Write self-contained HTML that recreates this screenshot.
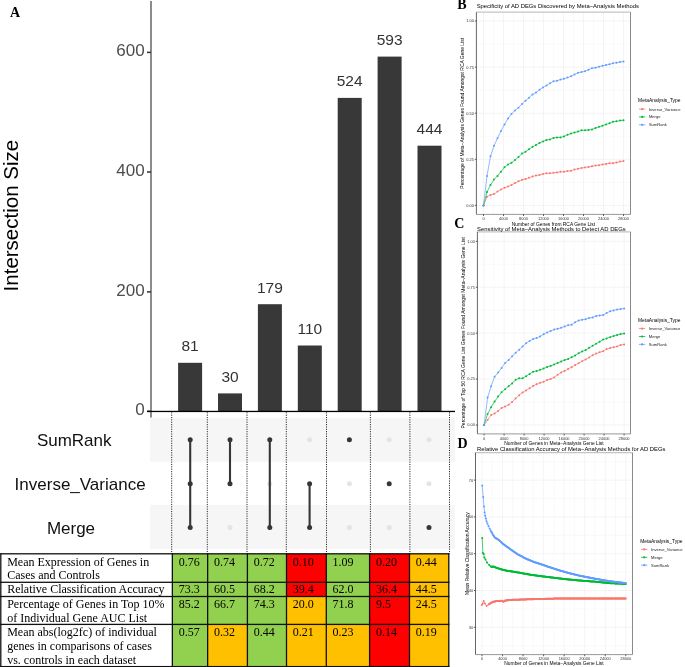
<!DOCTYPE html>
<html><head><meta charset="utf-8"><title>Figure</title>
<style>
html,body{margin:0;padding:0;background:#fff;}
body{width:685px;height:667px;overflow:hidden;}
svg{display:block;will-change:transform;}
.s{font-family:"Liberation Sans", sans-serif;}
.r{font-family:"Liberation Serif", serif;}
</style></head><body>
<svg width="685" height="667" viewBox="0 0 685 667">
<rect x="0" y="0" width="685" height="667" fill="#fff"/>

<text class="r" x="10" y="16.9" font-size="14" font-weight="bold" fill="#000">A</text>
<rect x="150" y="417.8" width="305" height="43.9" fill="#f6f6f6"/>
<rect x="150" y="504.9" width="305" height="44.1" fill="#f6f6f6"/>
<rect x="150" y="1" width="2" height="416.5" fill="#8c8c8c"/>
<line x1="147" y1="52.4" x2="151" y2="52.4" stroke="#333" stroke-width="1.5"/>
<text class="s" x="144.6" y="56.3" font-size="17" fill="#4d4d4d" text-anchor="end">600</text>
<line x1="147" y1="172.0" x2="151" y2="172.0" stroke="#333" stroke-width="1.5"/>
<text class="s" x="144.6" y="175.9" font-size="17" fill="#4d4d4d" text-anchor="end">400</text>
<line x1="147" y1="291.9" x2="151" y2="291.9" stroke="#333" stroke-width="1.5"/>
<text class="s" x="144.6" y="295.8" font-size="17" fill="#4d4d4d" text-anchor="end">200</text>
<line x1="147" y1="411.3" x2="151" y2="411.3" stroke="#333" stroke-width="1.5"/>
<text class="s" x="144.6" y="415.2" font-size="17" fill="#4d4d4d" text-anchor="end">0</text>
<text class="s" transform="translate(18,291.4) rotate(-90)" x="0" y="0" font-size="20.5" fill="#000">Intersection Size</text>
<rect x="178.1" y="362.8" width="24" height="48.5" fill="#383838"/>
<text class="s" x="190.1" y="351.3" font-size="15.5" fill="#333" text-anchor="middle">81</text>
<rect x="218.0" y="393.4" width="24" height="17.9" fill="#383838"/>
<text class="s" x="230.0" y="381.9" font-size="15.5" fill="#333" text-anchor="middle">30</text>
<rect x="257.9" y="304.2" width="24" height="107.1" fill="#383838"/>
<text class="s" x="269.9" y="292.7" font-size="15.5" fill="#333" text-anchor="middle">179</text>
<rect x="297.79999999999995" y="345.5" width="24" height="65.8" fill="#383838"/>
<text class="s" x="309.79999999999995" y="334.0" font-size="15.5" fill="#333" text-anchor="middle">110</text>
<rect x="337.7" y="97.9" width="24" height="313.4" fill="#383838"/>
<text class="s" x="349.7" y="86.4" font-size="15.5" fill="#333" text-anchor="middle">524</text>
<rect x="377.6" y="56.6" width="24" height="354.7" fill="#383838"/>
<text class="s" x="389.6" y="45.1" font-size="15.5" fill="#333" text-anchor="middle">593</text>
<rect x="417.5" y="145.7" width="24" height="265.6" fill="#383838"/>
<text class="s" x="429.5" y="134.2" font-size="15.5" fill="#333" text-anchor="middle">444</text>
<rect x="147" y="410.8" width="308" height="1.3" fill="#000"/>
<line x1="171.7" y1="412.3" x2="171.7" y2="553.5" stroke="#222" stroke-width="1" stroke-dasharray="1.1,1.25"/>
<line x1="207.3" y1="412.3" x2="207.3" y2="553.5" stroke="#222" stroke-width="1" stroke-dasharray="1.1,1.25"/>
<line x1="247.0" y1="412.3" x2="247.0" y2="553.5" stroke="#222" stroke-width="1" stroke-dasharray="1.1,1.25"/>
<line x1="286.3" y1="412.3" x2="286.3" y2="553.5" stroke="#222" stroke-width="1" stroke-dasharray="1.1,1.25"/>
<line x1="326.5" y1="412.3" x2="326.5" y2="553.5" stroke="#222" stroke-width="1" stroke-dasharray="1.1,1.25"/>
<line x1="370.4" y1="412.3" x2="370.4" y2="553.5" stroke="#222" stroke-width="1" stroke-dasharray="1.1,1.25"/>
<line x1="409.9" y1="412.3" x2="409.9" y2="553.5" stroke="#222" stroke-width="1" stroke-dasharray="1.1,1.25"/>
<line x1="449.5" y1="412.3" x2="449.5" y2="553.5" stroke="#222" stroke-width="1" stroke-dasharray="1.1,1.25"/>
<line x1="190.2" y1="439.7" x2="190.2" y2="527.6" stroke="#363636" stroke-width="2.1"/>
<circle cx="190.2" cy="439.7" r="2.5" fill="#363636"/>
<circle cx="190.2" cy="483.8" r="2.5" fill="#363636"/>
<circle cx="190.2" cy="527.6" r="2.5" fill="#363636"/>
<circle cx="230.0" cy="527.6" r="2.5" fill="#e4e4e4"/>
<line x1="230.0" y1="439.7" x2="230.0" y2="483.8" stroke="#363636" stroke-width="2.1"/>
<circle cx="230.0" cy="439.7" r="2.5" fill="#363636"/>
<circle cx="230.0" cy="483.8" r="2.5" fill="#363636"/>
<circle cx="269.8" cy="483.8" r="2.5" fill="#e4e4e4"/>
<line x1="269.8" y1="439.7" x2="269.8" y2="527.6" stroke="#363636" stroke-width="2.1"/>
<circle cx="269.8" cy="439.7" r="2.5" fill="#363636"/>
<circle cx="269.8" cy="527.6" r="2.5" fill="#363636"/>
<circle cx="309.6" cy="439.7" r="2.5" fill="#e4e4e4"/>
<line x1="309.6" y1="483.8" x2="309.6" y2="527.6" stroke="#363636" stroke-width="2.1"/>
<circle cx="309.6" cy="483.8" r="2.5" fill="#363636"/>
<circle cx="309.6" cy="527.6" r="2.5" fill="#363636"/>
<circle cx="349.4" cy="483.8" r="2.5" fill="#e4e4e4"/>
<circle cx="349.4" cy="527.6" r="2.5" fill="#e4e4e4"/>
<circle cx="349.4" cy="439.7" r="2.5" fill="#363636"/>
<circle cx="389.2" cy="439.7" r="2.5" fill="#e4e4e4"/>
<circle cx="389.2" cy="527.6" r="2.5" fill="#e4e4e4"/>
<circle cx="389.2" cy="483.8" r="2.5" fill="#363636"/>
<circle cx="429.0" cy="439.7" r="2.5" fill="#e4e4e4"/>
<circle cx="429.0" cy="483.8" r="2.5" fill="#e4e4e4"/>
<circle cx="429.0" cy="527.6" r="2.5" fill="#363636"/>
<text class="s" x="36.9" y="445.8" font-size="17" fill="#111">SumRank</text>
<text class="s" x="14.6" y="490" font-size="17" fill="#111">Inverse_Variance</text>
<text class="s" x="46.9" y="533.6" font-size="17" fill="#111">Merge</text>
<rect x="172.35" y="553.8" width="35.3" height="28.5" fill="#92d050"/>
<text class="r" x="178.7" y="565.5" font-size="12" fill="#000">0.76</text>
<rect x="207.65" y="553.8" width="39.8" height="28.5" fill="#92d050"/>
<text class="r" x="214.0" y="565.5" font-size="12" fill="#000">0.74</text>
<rect x="247.4" y="553.8" width="39.1" height="28.5" fill="#92d050"/>
<text class="r" x="253.7" y="565.5" font-size="12" fill="#000">0.72</text>
<rect x="286.5" y="553.8" width="39.8" height="28.5" fill="#ff0000"/>
<text class="r" x="292.8" y="565.5" font-size="12" fill="#000">0.10</text>
<rect x="326.3" y="553.8" width="43.3" height="28.5" fill="#92d050"/>
<text class="r" x="332.6" y="565.5" font-size="12" fill="#000">1.09</text>
<rect x="369.6" y="553.8" width="39.9" height="28.5" fill="#ff0000"/>
<text class="r" x="375.9" y="565.5" font-size="12" fill="#000">0.20</text>
<rect x="409.5" y="553.8" width="39.3" height="28.5" fill="#ffc000"/>
<text class="r" x="415.8" y="565.5" font-size="12" fill="#000">0.44</text>
<text class="r" x="7.2" y="565.5" font-size="12" fill="#000">Mean Expression of Genes in</text>
<text class="r" x="7.2" y="579.2" font-size="12" fill="#000">Cases and Controls</text>
<rect x="172.35" y="582.3" width="35.3" height="14.2" fill="#92d050"/>
<text class="r" x="178.7" y="593.1" font-size="12" fill="#000">73.3</text>
<rect x="207.65" y="582.3" width="39.8" height="14.2" fill="#92d050"/>
<text class="r" x="214.0" y="593.1" font-size="12" fill="#000">60.5</text>
<rect x="247.4" y="582.3" width="39.1" height="14.2" fill="#92d050"/>
<text class="r" x="253.7" y="593.1" font-size="12" fill="#000">68.2</text>
<rect x="286.5" y="582.3" width="39.8" height="14.2" fill="#ff0000"/>
<text class="r" x="292.8" y="593.1" font-size="12" fill="#000">39.4</text>
<rect x="326.3" y="582.3" width="43.3" height="14.2" fill="#92d050"/>
<text class="r" x="332.6" y="593.1" font-size="12" fill="#000">62.0</text>
<rect x="369.6" y="582.3" width="39.9" height="14.2" fill="#ff0000"/>
<text class="r" x="375.9" y="593.1" font-size="12" fill="#000">36.4</text>
<rect x="409.5" y="582.3" width="39.3" height="14.2" fill="#ffc000"/>
<text class="r" x="415.8" y="593.1" font-size="12" fill="#000">44.5</text>
<text class="r" x="7.2" y="593.1" font-size="12" fill="#000">Relative Classification Accuracy</text>
<rect x="172.35" y="596.5" width="35.3" height="27.9" fill="#92d050"/>
<text class="r" x="178.7" y="607.9" font-size="12" fill="#000">85.2</text>
<rect x="207.65" y="596.5" width="39.8" height="27.9" fill="#92d050"/>
<text class="r" x="214.0" y="607.9" font-size="12" fill="#000">66.7</text>
<rect x="247.4" y="596.5" width="39.1" height="27.9" fill="#92d050"/>
<text class="r" x="253.7" y="607.9" font-size="12" fill="#000">74.3</text>
<rect x="286.5" y="596.5" width="39.8" height="27.9" fill="#ffc000"/>
<text class="r" x="292.8" y="607.9" font-size="12" fill="#000">20.0</text>
<rect x="326.3" y="596.5" width="43.3" height="27.9" fill="#92d050"/>
<text class="r" x="332.6" y="607.9" font-size="12" fill="#000">71.8</text>
<rect x="369.6" y="596.5" width="39.9" height="27.9" fill="#ff0000"/>
<text class="r" x="375.9" y="607.9" font-size="12" fill="#000">9.5</text>
<rect x="409.5" y="596.5" width="39.3" height="27.9" fill="#ffc000"/>
<text class="r" x="415.8" y="607.9" font-size="12" fill="#000">24.5</text>
<text class="r" x="7.2" y="607.9" font-size="12" fill="#000">Percentage of Genes in Top 10%</text>
<text class="r" x="7.2" y="621.6" font-size="12" fill="#000">of Individual Gene AUC List</text>
<rect x="172.35" y="624.4" width="35.3" height="42.2" fill="#92d050"/>
<text class="r" x="178.7" y="636.2" font-size="12" fill="#000">0.57</text>
<rect x="207.65" y="624.4" width="39.8" height="42.2" fill="#ffc000"/>
<text class="r" x="214.0" y="636.2" font-size="12" fill="#000">0.32</text>
<rect x="247.4" y="624.4" width="39.1" height="42.2" fill="#92d050"/>
<text class="r" x="253.7" y="636.2" font-size="12" fill="#000">0.44</text>
<rect x="286.5" y="624.4" width="39.8" height="42.2" fill="#ffc000"/>
<text class="r" x="292.8" y="636.2" font-size="12" fill="#000">0.21</text>
<rect x="326.3" y="624.4" width="43.3" height="42.2" fill="#ffc000"/>
<text class="r" x="332.6" y="636.2" font-size="12" fill="#000">0.23</text>
<rect x="369.6" y="624.4" width="39.9" height="42.2" fill="#ff0000"/>
<text class="r" x="375.9" y="636.2" font-size="12" fill="#000">0.14</text>
<rect x="409.5" y="624.4" width="39.3" height="42.2" fill="#ffc000"/>
<text class="r" x="415.8" y="636.2" font-size="12" fill="#000">0.19</text>
<text class="r" x="7.2" y="636.2" font-size="12" fill="#000">Mean abs(log2fc) of individual</text>
<text class="r" x="7.2" y="649.9" font-size="12" fill="#000">genes in comparisons of cases</text>
<text class="r" x="7.2" y="663.6" font-size="12" fill="#000">vs. controls in each dataset</text>
<rect x="0.15" y="553.15" width="1.3" height="114.1" fill="#111"/>
<rect x="171.70" y="553.15" width="1.3" height="114.1" fill="#111"/>
<rect x="207.00" y="553.15" width="1.3" height="114.1" fill="#111"/>
<rect x="246.75" y="553.15" width="1.3" height="114.1" fill="#111"/>
<rect x="285.85" y="553.15" width="1.3" height="114.1" fill="#111"/>
<rect x="325.65" y="553.15" width="1.3" height="114.1" fill="#111"/>
<rect x="368.95" y="553.15" width="1.3" height="114.1" fill="#111"/>
<rect x="408.85" y="553.15" width="1.3" height="114.1" fill="#111"/>
<rect x="448.15" y="553.15" width="1.3" height="114.1" fill="#111"/>
<rect x="0.15" y="553.15" width="449.3" height="1.3" fill="#111"/>
<rect x="0.15" y="581.65" width="449.3" height="1.3" fill="#111"/>
<rect x="0.15" y="595.85" width="449.3" height="1.3" fill="#111"/>
<rect x="0.15" y="623.75" width="449.3" height="1.3" fill="#111"/>
<rect x="0.15" y="665.95" width="449.3" height="1.3" fill="#111"/>
<line x1="483.50" y1="12.2" x2="483.50" y2="214.4" stroke="#ebebeb" stroke-width="0.55"/><line x1="493.50" y1="12.2" x2="493.50" y2="214.4" stroke="#ebebeb" stroke-width="0.3"/><line x1="503.50" y1="12.2" x2="503.50" y2="214.4" stroke="#ebebeb" stroke-width="0.55"/><line x1="513.50" y1="12.2" x2="513.50" y2="214.4" stroke="#ebebeb" stroke-width="0.3"/><line x1="523.50" y1="12.2" x2="523.50" y2="214.4" stroke="#ebebeb" stroke-width="0.55"/><line x1="533.50" y1="12.2" x2="533.50" y2="214.4" stroke="#ebebeb" stroke-width="0.3"/><line x1="543.50" y1="12.2" x2="543.50" y2="214.4" stroke="#ebebeb" stroke-width="0.55"/><line x1="553.50" y1="12.2" x2="553.50" y2="214.4" stroke="#ebebeb" stroke-width="0.3"/><line x1="563.50" y1="12.2" x2="563.50" y2="214.4" stroke="#ebebeb" stroke-width="0.55"/><line x1="573.50" y1="12.2" x2="573.50" y2="214.4" stroke="#ebebeb" stroke-width="0.3"/><line x1="583.50" y1="12.2" x2="583.50" y2="214.4" stroke="#ebebeb" stroke-width="0.55"/><line x1="593.50" y1="12.2" x2="593.50" y2="214.4" stroke="#ebebeb" stroke-width="0.3"/><line x1="603.50" y1="12.2" x2="603.50" y2="214.4" stroke="#ebebeb" stroke-width="0.55"/><line x1="613.50" y1="12.2" x2="613.50" y2="214.4" stroke="#ebebeb" stroke-width="0.3"/><line x1="623.50" y1="12.2" x2="623.50" y2="214.4" stroke="#ebebeb" stroke-width="0.55"/><line x1="476.4" y1="205.40" x2="630.5" y2="205.40" stroke="#ebebeb" stroke-width="0.55"/><line x1="476.4" y1="182.35" x2="630.5" y2="182.35" stroke="#ebebeb" stroke-width="0.3"/><line x1="476.4" y1="159.30" x2="630.5" y2="159.30" stroke="#ebebeb" stroke-width="0.55"/><line x1="476.4" y1="136.25" x2="630.5" y2="136.25" stroke="#ebebeb" stroke-width="0.3"/><line x1="476.4" y1="113.20" x2="630.5" y2="113.20" stroke="#ebebeb" stroke-width="0.55"/><line x1="476.4" y1="90.15" x2="630.5" y2="90.15" stroke="#ebebeb" stroke-width="0.3"/><line x1="476.4" y1="67.10" x2="630.5" y2="67.10" stroke="#ebebeb" stroke-width="0.55"/><line x1="476.4" y1="44.05" x2="630.5" y2="44.05" stroke="#ebebeb" stroke-width="0.3"/><line x1="476.4" y1="21.00" x2="630.5" y2="21.00" stroke="#ebebeb" stroke-width="0.55"/>
<path d="M483.50,205.40 L487.00,196.73 L490.50,195.07 L494.00,193.97 L497.50,191.57 L501.00,189.54 L504.50,187.70 L508.00,186.59 L511.50,184.93 L515.00,183.09 L518.50,181.24 L522.00,179.77 L525.50,179.03 L529.00,177.74 L532.50,176.45 L536.00,175.53 L539.50,174.97 L543.00,174.05 L546.50,173.31 L550.00,173.31 L553.50,172.76 L557.00,172.39 L560.50,171.84 L564.00,171.65 L567.50,171.10 L571.00,170.73 L574.50,169.44 L578.00,168.70 L581.50,167.97 L585.00,167.41 L588.50,166.86 L592.00,166.31 L595.50,165.57 L599.00,165.20 L602.50,164.46 L606.00,163.91 L609.50,163.17 L613.00,163.17 L616.50,162.62 L620.00,161.51 L623.50,161.14" fill="none" stroke="#F8766D" stroke-width="0.7" stroke-linejoin="round"/>
<g fill="#F8766D"><circle cx="483.5" cy="205.4" r="1.0"/><circle cx="487.0" cy="196.7" r="1.0"/><circle cx="490.5" cy="195.1" r="1.0"/><circle cx="494.0" cy="194.0" r="1.0"/><circle cx="497.5" cy="191.6" r="1.0"/><circle cx="501.0" cy="189.5" r="1.0"/><circle cx="504.5" cy="187.7" r="1.0"/><circle cx="508.0" cy="186.6" r="1.0"/><circle cx="511.5" cy="184.9" r="1.0"/><circle cx="515.0" cy="183.1" r="1.0"/><circle cx="518.5" cy="181.2" r="1.0"/><circle cx="522.0" cy="179.8" r="1.0"/><circle cx="525.5" cy="179.0" r="1.0"/><circle cx="529.0" cy="177.7" r="1.0"/><circle cx="532.5" cy="176.4" r="1.0"/><circle cx="536.0" cy="175.5" r="1.0"/><circle cx="539.5" cy="175.0" r="1.0"/><circle cx="543.0" cy="174.1" r="1.0"/><circle cx="546.5" cy="173.3" r="1.0"/><circle cx="550.0" cy="173.3" r="1.0"/><circle cx="553.5" cy="172.8" r="1.0"/><circle cx="557.0" cy="172.4" r="1.0"/><circle cx="560.5" cy="171.8" r="1.0"/><circle cx="564.0" cy="171.7" r="1.0"/><circle cx="567.5" cy="171.1" r="1.0"/><circle cx="571.0" cy="170.7" r="1.0"/><circle cx="574.5" cy="169.4" r="1.0"/><circle cx="578.0" cy="168.7" r="1.0"/><circle cx="581.5" cy="168.0" r="1.0"/><circle cx="585.0" cy="167.4" r="1.0"/><circle cx="588.5" cy="166.9" r="1.0"/><circle cx="592.0" cy="166.3" r="1.0"/><circle cx="595.5" cy="165.6" r="1.0"/><circle cx="599.0" cy="165.2" r="1.0"/><circle cx="602.5" cy="164.5" r="1.0"/><circle cx="606.0" cy="163.9" r="1.0"/><circle cx="609.5" cy="163.2" r="1.0"/><circle cx="613.0" cy="163.2" r="1.0"/><circle cx="616.5" cy="162.6" r="1.0"/><circle cx="620.0" cy="161.5" r="1.0"/><circle cx="623.5" cy="161.1" r="1.0"/></g>
<path d="M483.50,205.40 L487.00,191.94 L490.50,184.93 L494.00,179.58 L497.50,175.90 L501.00,171.65 L504.50,167.23 L508.00,164.65 L511.50,162.80 L515.00,160.04 L518.50,157.09 L522.00,153.58 L525.50,151.74 L529.00,149.34 L532.50,146.76 L536.00,145.10 L539.50,142.89 L543.00,141.41 L546.50,139.94 L550.00,139.38 L553.50,137.91 L557.00,137.54 L560.50,137.36 L564.00,136.43 L567.50,134.77 L571.00,133.48 L574.50,132.56 L578.00,131.64 L581.50,130.35 L585.00,130.35 L588.50,129.98 L592.00,129.43 L595.50,128.14 L599.00,126.85 L602.50,125.74 L606.00,124.45 L609.50,123.34 L613.00,121.68 L616.50,121.31 L620.00,120.58 L623.50,120.21" fill="none" stroke="#00BA38" stroke-width="0.7" stroke-linejoin="round"/>
<g fill="#00BA38"><circle cx="483.5" cy="205.4" r="1.0"/><circle cx="487.0" cy="191.9" r="1.0"/><circle cx="490.5" cy="184.9" r="1.0"/><circle cx="494.0" cy="179.6" r="1.0"/><circle cx="497.5" cy="175.9" r="1.0"/><circle cx="501.0" cy="171.7" r="1.0"/><circle cx="504.5" cy="167.2" r="1.0"/><circle cx="508.0" cy="164.6" r="1.0"/><circle cx="511.5" cy="162.8" r="1.0"/><circle cx="515.0" cy="160.0" r="1.0"/><circle cx="518.5" cy="157.1" r="1.0"/><circle cx="522.0" cy="153.6" r="1.0"/><circle cx="525.5" cy="151.7" r="1.0"/><circle cx="529.0" cy="149.3" r="1.0"/><circle cx="532.5" cy="146.8" r="1.0"/><circle cx="536.0" cy="145.1" r="1.0"/><circle cx="539.5" cy="142.9" r="1.0"/><circle cx="543.0" cy="141.4" r="1.0"/><circle cx="546.5" cy="139.9" r="1.0"/><circle cx="550.0" cy="139.4" r="1.0"/><circle cx="553.5" cy="137.9" r="1.0"/><circle cx="557.0" cy="137.5" r="1.0"/><circle cx="560.5" cy="137.4" r="1.0"/><circle cx="564.0" cy="136.4" r="1.0"/><circle cx="567.5" cy="134.8" r="1.0"/><circle cx="571.0" cy="133.5" r="1.0"/><circle cx="574.5" cy="132.6" r="1.0"/><circle cx="578.0" cy="131.6" r="1.0"/><circle cx="581.5" cy="130.3" r="1.0"/><circle cx="585.0" cy="130.3" r="1.0"/><circle cx="588.5" cy="130.0" r="1.0"/><circle cx="592.0" cy="129.4" r="1.0"/><circle cx="595.5" cy="128.1" r="1.0"/><circle cx="599.0" cy="126.8" r="1.0"/><circle cx="602.5" cy="125.7" r="1.0"/><circle cx="606.0" cy="124.4" r="1.0"/><circle cx="609.5" cy="123.3" r="1.0"/><circle cx="613.0" cy="121.7" r="1.0"/><circle cx="616.5" cy="121.3" r="1.0"/><circle cx="620.0" cy="120.6" r="1.0"/><circle cx="623.5" cy="120.2" r="1.0"/></g>
<path d="M483.50,205.40 L487.00,175.90 L490.50,156.35 L494.00,145.84 L497.50,138.28 L501.00,130.90 L504.50,124.63 L508.00,118.36 L511.50,113.94 L515.00,110.43 L518.50,107.67 L522.00,103.98 L525.50,100.85 L529.00,97.71 L532.50,94.58 L536.00,92.55 L539.50,89.78 L543.00,87.38 L546.50,85.54 L550.00,83.33 L553.50,81.30 L557.00,80.75 L560.50,79.64 L564.00,78.72 L567.50,77.61 L571.00,76.32 L574.50,74.48 L578.00,72.82 L581.50,72.08 L585.00,71.16 L588.50,69.68 L592.00,68.21 L595.50,67.65 L599.00,66.73 L602.50,65.81 L606.00,65.07 L609.50,64.33 L613.00,63.23 L616.50,62.67 L620.00,61.94 L623.50,61.57" fill="none" stroke="#619CFF" stroke-width="0.7" stroke-linejoin="round"/>
<g fill="#619CFF"><circle cx="483.5" cy="205.4" r="1.0"/><circle cx="487.0" cy="175.9" r="1.0"/><circle cx="490.5" cy="156.3" r="1.0"/><circle cx="494.0" cy="145.8" r="1.0"/><circle cx="497.5" cy="138.3" r="1.0"/><circle cx="501.0" cy="130.9" r="1.0"/><circle cx="504.5" cy="124.6" r="1.0"/><circle cx="508.0" cy="118.4" r="1.0"/><circle cx="511.5" cy="113.9" r="1.0"/><circle cx="515.0" cy="110.4" r="1.0"/><circle cx="518.5" cy="107.7" r="1.0"/><circle cx="522.0" cy="104.0" r="1.0"/><circle cx="525.5" cy="100.8" r="1.0"/><circle cx="529.0" cy="97.7" r="1.0"/><circle cx="532.5" cy="94.6" r="1.0"/><circle cx="536.0" cy="92.5" r="1.0"/><circle cx="539.5" cy="89.8" r="1.0"/><circle cx="543.0" cy="87.4" r="1.0"/><circle cx="546.5" cy="85.5" r="1.0"/><circle cx="550.0" cy="83.3" r="1.0"/><circle cx="553.5" cy="81.3" r="1.0"/><circle cx="557.0" cy="80.7" r="1.0"/><circle cx="560.5" cy="79.6" r="1.0"/><circle cx="564.0" cy="78.7" r="1.0"/><circle cx="567.5" cy="77.6" r="1.0"/><circle cx="571.0" cy="76.3" r="1.0"/><circle cx="574.5" cy="74.5" r="1.0"/><circle cx="578.0" cy="72.8" r="1.0"/><circle cx="581.5" cy="72.1" r="1.0"/><circle cx="585.0" cy="71.2" r="1.0"/><circle cx="588.5" cy="69.7" r="1.0"/><circle cx="592.0" cy="68.2" r="1.0"/><circle cx="595.5" cy="67.7" r="1.0"/><circle cx="599.0" cy="66.7" r="1.0"/><circle cx="602.5" cy="65.8" r="1.0"/><circle cx="606.0" cy="65.1" r="1.0"/><circle cx="609.5" cy="64.3" r="1.0"/><circle cx="613.0" cy="63.2" r="1.0"/><circle cx="616.5" cy="62.7" r="1.0"/><circle cx="620.0" cy="61.9" r="1.0"/><circle cx="623.5" cy="61.6" r="1.0"/></g>
<line x1="476.4" y1="12.2" x2="630.5" y2="12.2" stroke="#c4c4c4" stroke-width="1.3"/>
<line x1="630.5" y1="12.2" x2="630.5" y2="214.4" stroke="#8a8a8a" stroke-width="1"/>
<line x1="476.4" y1="214.4" x2="630.5" y2="214.4" stroke="#999" stroke-width="1"/>
<line x1="476.4" y1="12.2" x2="476.4" y2="214.4" stroke="#666" stroke-width="1"/>
<line x1="474.79999999999995" y1="205.40" x2="476.4" y2="205.40" stroke="#333" stroke-width="0.8"/>
<text class="s" x="474.00" y="206.80" font-size="3.95" fill="#333" text-anchor="end">0.00</text>
<line x1="474.79999999999995" y1="159.30" x2="476.4" y2="159.30" stroke="#333" stroke-width="0.8"/>
<text class="s" x="474.00" y="160.70" font-size="3.95" fill="#333" text-anchor="end">0.25</text>
<line x1="474.79999999999995" y1="113.20" x2="476.4" y2="113.20" stroke="#333" stroke-width="0.8"/>
<text class="s" x="474.00" y="114.60" font-size="3.95" fill="#333" text-anchor="end">0.50</text>
<line x1="474.79999999999995" y1="67.10" x2="476.4" y2="67.10" stroke="#333" stroke-width="0.8"/>
<text class="s" x="474.00" y="68.50" font-size="3.95" fill="#333" text-anchor="end">0.75</text>
<line x1="474.79999999999995" y1="21.00" x2="476.4" y2="21.00" stroke="#333" stroke-width="0.8"/>
<text class="s" x="474.00" y="22.40" font-size="3.95" fill="#333" text-anchor="end">1.00</text>
<line x1="483.50" y1="214.4" x2="483.50" y2="216.0" stroke="#333" stroke-width="0.8"/>
<text class="s" x="483.50" y="220.00" font-size="3.95" fill="#333" text-anchor="middle">0</text>
<line x1="503.50" y1="214.4" x2="503.50" y2="216.0" stroke="#333" stroke-width="0.8"/>
<text class="s" x="503.50" y="220.00" font-size="3.95" fill="#333" text-anchor="middle">4000</text>
<line x1="523.50" y1="214.4" x2="523.50" y2="216.0" stroke="#333" stroke-width="0.8"/>
<text class="s" x="523.50" y="220.00" font-size="3.95" fill="#333" text-anchor="middle">8000</text>
<line x1="543.50" y1="214.4" x2="543.50" y2="216.0" stroke="#333" stroke-width="0.8"/>
<text class="s" x="543.50" y="220.00" font-size="3.95" fill="#333" text-anchor="middle">12000</text>
<line x1="563.50" y1="214.4" x2="563.50" y2="216.0" stroke="#333" stroke-width="0.8"/>
<text class="s" x="563.50" y="220.00" font-size="3.95" fill="#333" text-anchor="middle">16000</text>
<line x1="583.50" y1="214.4" x2="583.50" y2="216.0" stroke="#333" stroke-width="0.8"/>
<text class="s" x="583.50" y="220.00" font-size="3.95" fill="#333" text-anchor="middle">20000</text>
<line x1="603.50" y1="214.4" x2="603.50" y2="216.0" stroke="#333" stroke-width="0.8"/>
<text class="s" x="603.50" y="220.00" font-size="3.95" fill="#333" text-anchor="middle">24000</text>
<line x1="623.50" y1="214.4" x2="623.50" y2="216.0" stroke="#333" stroke-width="0.8"/>
<text class="s" x="623.50" y="220.00" font-size="3.95" fill="#333" text-anchor="middle">28000</text>
<text class="s" x="553.45" y="225.8" font-size="4.9" fill="#000" text-anchor="middle">Number of Genes from RCA Gene List</text>
<text class="s" transform="translate(463.9,113.30) rotate(-90)" font-size="4.97" fill="#000" text-anchor="middle">Percentage of Meta−Analysis Genes Found Amongst RCA Gene List</text>
<text class="s" x="476.7" y="7.9" font-size="5.87" fill="#000">Specificity of AD DEGs Discovered by Meta−Analysis Methods</text>
<text class="r" x="457.3" y="9.3" font-size="14" font-weight="bold" fill="#000">B</text>
<text class="s" x="638.1" y="102.35" font-size="4.9" fill="#000">MetaAnalysis_Type</text>
<line x1="639.00" y1="109.10" x2="645.30" y2="109.10" stroke="#F8766D" stroke-width="0.8"/>
<circle cx="642.20" cy="109.10" r="1.1" fill="#F8766D"/>
<text class="s" x="648.90" y="110.55" font-size="4.1" fill="#222">Inverse_Variance</text>
<line x1="639.00" y1="116.95" x2="645.30" y2="116.95" stroke="#00BA38" stroke-width="0.8"/>
<circle cx="642.20" cy="116.95" r="1.1" fill="#00BA38"/>
<text class="s" x="648.90" y="118.40" font-size="4.1" fill="#222">Merge</text>
<line x1="639.00" y1="124.80" x2="645.30" y2="124.80" stroke="#619CFF" stroke-width="0.8"/>
<circle cx="642.20" cy="124.80" r="1.1" fill="#619CFF"/>
<text class="s" x="648.90" y="126.25" font-size="4.1" fill="#222">SumRank</text>
<line x1="484.10" y1="231.8" x2="484.10" y2="433.9" stroke="#ebebeb" stroke-width="0.55"/><line x1="494.10" y1="231.8" x2="494.10" y2="433.9" stroke="#ebebeb" stroke-width="0.3"/><line x1="504.10" y1="231.8" x2="504.10" y2="433.9" stroke="#ebebeb" stroke-width="0.55"/><line x1="514.10" y1="231.8" x2="514.10" y2="433.9" stroke="#ebebeb" stroke-width="0.3"/><line x1="524.10" y1="231.8" x2="524.10" y2="433.9" stroke="#ebebeb" stroke-width="0.55"/><line x1="534.10" y1="231.8" x2="534.10" y2="433.9" stroke="#ebebeb" stroke-width="0.3"/><line x1="544.10" y1="231.8" x2="544.10" y2="433.9" stroke="#ebebeb" stroke-width="0.55"/><line x1="554.10" y1="231.8" x2="554.10" y2="433.9" stroke="#ebebeb" stroke-width="0.3"/><line x1="564.10" y1="231.8" x2="564.10" y2="433.9" stroke="#ebebeb" stroke-width="0.55"/><line x1="574.10" y1="231.8" x2="574.10" y2="433.9" stroke="#ebebeb" stroke-width="0.3"/><line x1="584.10" y1="231.8" x2="584.10" y2="433.9" stroke="#ebebeb" stroke-width="0.55"/><line x1="594.10" y1="231.8" x2="594.10" y2="433.9" stroke="#ebebeb" stroke-width="0.3"/><line x1="604.10" y1="231.8" x2="604.10" y2="433.9" stroke="#ebebeb" stroke-width="0.55"/><line x1="614.10" y1="231.8" x2="614.10" y2="433.9" stroke="#ebebeb" stroke-width="0.3"/><line x1="624.10" y1="231.8" x2="624.10" y2="433.9" stroke="#ebebeb" stroke-width="0.55"/><line x1="477.4" y1="425.00" x2="630.5" y2="425.00" stroke="#ebebeb" stroke-width="0.55"/><line x1="477.4" y1="402.04" x2="630.5" y2="402.04" stroke="#ebebeb" stroke-width="0.3"/><line x1="477.4" y1="379.07" x2="630.5" y2="379.07" stroke="#ebebeb" stroke-width="0.55"/><line x1="477.4" y1="356.11" x2="630.5" y2="356.11" stroke="#ebebeb" stroke-width="0.3"/><line x1="477.4" y1="333.15" x2="630.5" y2="333.15" stroke="#ebebeb" stroke-width="0.55"/><line x1="477.4" y1="310.19" x2="630.5" y2="310.19" stroke="#ebebeb" stroke-width="0.3"/><line x1="477.4" y1="287.23" x2="630.5" y2="287.23" stroke="#ebebeb" stroke-width="0.55"/><line x1="477.4" y1="264.26" x2="630.5" y2="264.26" stroke="#ebebeb" stroke-width="0.3"/><line x1="477.4" y1="241.30" x2="630.5" y2="241.30" stroke="#ebebeb" stroke-width="0.55"/>
<path d="M484.10,425.00 L487.60,419.86 L491.10,415.08 L494.60,413.43 L498.10,411.04 L501.60,407.92 L505.10,406.63 L508.60,404.79 L512.10,401.85 L515.60,398.36 L519.10,395.24 L522.60,392.54 L526.10,390.39 L529.60,388.23 L533.10,386.06 L536.60,384.23 L540.10,382.76 L543.60,381.82 L547.10,379.93 L550.60,379.12 L554.10,377.36 L557.60,374.83 L561.10,372.46 L564.60,370.98 L568.10,368.91 L571.60,367.18 L575.10,365.05 L578.60,363.26 L582.10,361.27 L585.60,359.44 L589.10,357.40 L592.60,355.16 L596.10,353.65 L599.60,352.31 L603.10,351.15 L606.60,349.13 L610.10,348.03 L613.60,347.29 L617.10,346.38 L620.60,345.09 L624.10,344.36" fill="none" stroke="#F8766D" stroke-width="0.7" stroke-linejoin="round"/>
<g fill="#F8766D"><circle cx="484.1" cy="425.0" r="1.0"/><circle cx="487.6" cy="419.9" r="1.0"/><circle cx="491.1" cy="415.1" r="1.0"/><circle cx="494.6" cy="413.4" r="1.0"/><circle cx="498.1" cy="411.0" r="1.0"/><circle cx="501.6" cy="407.9" r="1.0"/><circle cx="505.1" cy="406.6" r="1.0"/><circle cx="508.6" cy="404.8" r="1.0"/><circle cx="512.1" cy="401.9" r="1.0"/><circle cx="515.6" cy="398.4" r="1.0"/><circle cx="519.1" cy="395.2" r="1.0"/><circle cx="522.6" cy="392.5" r="1.0"/><circle cx="526.1" cy="390.4" r="1.0"/><circle cx="529.6" cy="388.2" r="1.0"/><circle cx="533.1" cy="386.1" r="1.0"/><circle cx="536.6" cy="384.2" r="1.0"/><circle cx="540.1" cy="382.8" r="1.0"/><circle cx="543.6" cy="381.8" r="1.0"/><circle cx="547.1" cy="379.9" r="1.0"/><circle cx="550.6" cy="379.1" r="1.0"/><circle cx="554.1" cy="377.4" r="1.0"/><circle cx="557.6" cy="374.8" r="1.0"/><circle cx="561.1" cy="372.5" r="1.0"/><circle cx="564.6" cy="371.0" r="1.0"/><circle cx="568.1" cy="368.9" r="1.0"/><circle cx="571.6" cy="367.2" r="1.0"/><circle cx="575.1" cy="365.1" r="1.0"/><circle cx="578.6" cy="363.3" r="1.0"/><circle cx="582.1" cy="361.3" r="1.0"/><circle cx="585.6" cy="359.4" r="1.0"/><circle cx="589.1" cy="357.4" r="1.0"/><circle cx="592.6" cy="355.2" r="1.0"/><circle cx="596.1" cy="353.6" r="1.0"/><circle cx="599.6" cy="352.3" r="1.0"/><circle cx="603.1" cy="351.2" r="1.0"/><circle cx="606.6" cy="349.1" r="1.0"/><circle cx="610.1" cy="348.0" r="1.0"/><circle cx="613.6" cy="347.3" r="1.0"/><circle cx="617.1" cy="346.4" r="1.0"/><circle cx="620.6" cy="345.1" r="1.0"/><circle cx="624.1" cy="344.4" r="1.0"/></g>
<path d="M484.10,425.00 L487.60,413.98 L491.10,407.18 L494.60,401.49 L498.10,396.53 L501.60,392.30 L505.10,389.18 L508.60,386.24 L512.10,383.48 L515.60,379.81 L519.10,378.34 L522.60,378.26 L526.10,376.16 L529.60,373.86 L533.10,371.73 L536.60,370.86 L540.10,369.80 L543.60,368.52 L547.10,367.02 L550.60,365.86 L554.10,364.49 L557.60,362.89 L561.10,361.44 L564.60,360.14 L568.10,358.98 L571.60,357.23 L575.10,355.45 L578.60,353.27 L582.10,351.43 L585.60,350.11 L589.10,347.85 L592.60,345.75 L596.10,343.82 L599.60,341.70 L603.10,339.58 L606.60,338.48 L610.10,337.19 L613.60,336.09 L617.10,334.99 L620.60,334.07 L624.10,333.52" fill="none" stroke="#00BA38" stroke-width="0.7" stroke-linejoin="round"/>
<g fill="#00BA38"><circle cx="484.1" cy="425.0" r="1.0"/><circle cx="487.6" cy="414.0" r="1.0"/><circle cx="491.1" cy="407.2" r="1.0"/><circle cx="494.6" cy="401.5" r="1.0"/><circle cx="498.1" cy="396.5" r="1.0"/><circle cx="501.6" cy="392.3" r="1.0"/><circle cx="505.1" cy="389.2" r="1.0"/><circle cx="508.6" cy="386.2" r="1.0"/><circle cx="512.1" cy="383.5" r="1.0"/><circle cx="515.6" cy="379.8" r="1.0"/><circle cx="519.1" cy="378.3" r="1.0"/><circle cx="522.6" cy="378.3" r="1.0"/><circle cx="526.1" cy="376.2" r="1.0"/><circle cx="529.6" cy="373.9" r="1.0"/><circle cx="533.1" cy="371.7" r="1.0"/><circle cx="536.6" cy="370.9" r="1.0"/><circle cx="540.1" cy="369.8" r="1.0"/><circle cx="543.6" cy="368.5" r="1.0"/><circle cx="547.1" cy="367.0" r="1.0"/><circle cx="550.6" cy="365.9" r="1.0"/><circle cx="554.1" cy="364.5" r="1.0"/><circle cx="557.6" cy="362.9" r="1.0"/><circle cx="561.1" cy="361.4" r="1.0"/><circle cx="564.6" cy="360.1" r="1.0"/><circle cx="568.1" cy="359.0" r="1.0"/><circle cx="571.6" cy="357.2" r="1.0"/><circle cx="575.1" cy="355.4" r="1.0"/><circle cx="578.6" cy="353.3" r="1.0"/><circle cx="582.1" cy="351.4" r="1.0"/><circle cx="585.6" cy="350.1" r="1.0"/><circle cx="589.1" cy="347.8" r="1.0"/><circle cx="592.6" cy="345.8" r="1.0"/><circle cx="596.1" cy="343.8" r="1.0"/><circle cx="599.6" cy="341.7" r="1.0"/><circle cx="603.1" cy="339.6" r="1.0"/><circle cx="606.6" cy="338.5" r="1.0"/><circle cx="610.1" cy="337.2" r="1.0"/><circle cx="613.6" cy="336.1" r="1.0"/><circle cx="617.1" cy="335.0" r="1.0"/><circle cx="620.6" cy="334.1" r="1.0"/><circle cx="624.1" cy="333.5" r="1.0"/></g>
<path d="M484.10,425.00 L487.60,397.63 L491.10,386.24 L494.60,376.69 L498.10,372.65 L501.60,367.87 L505.10,363.09 L508.60,359.97 L512.10,356.30 L515.60,352.81 L519.10,349.68 L522.60,346.38 L526.10,343.25 L529.60,341.05 L533.10,339.03 L536.60,337.93 L540.10,336.46 L543.60,334.25 L547.10,332.42 L550.60,331.13 L554.10,329.48 L557.60,328.74 L561.10,327.82 L564.60,326.35 L568.10,325.25 L571.60,324.70 L575.10,322.31 L578.60,320.47 L582.10,319.74 L585.60,319.19 L589.10,318.09 L592.60,317.35 L596.10,316.07 L599.60,315.51 L603.10,315.15 L606.60,313.13 L610.10,311.29 L613.60,310.37 L617.10,309.64 L620.60,309.09 L624.10,308.35" fill="none" stroke="#619CFF" stroke-width="0.7" stroke-linejoin="round"/>
<g fill="#619CFF"><circle cx="484.1" cy="425.0" r="1.0"/><circle cx="487.6" cy="397.6" r="1.0"/><circle cx="491.1" cy="386.2" r="1.0"/><circle cx="494.6" cy="376.7" r="1.0"/><circle cx="498.1" cy="372.6" r="1.0"/><circle cx="501.6" cy="367.9" r="1.0"/><circle cx="505.1" cy="363.1" r="1.0"/><circle cx="508.6" cy="360.0" r="1.0"/><circle cx="512.1" cy="356.3" r="1.0"/><circle cx="515.6" cy="352.8" r="1.0"/><circle cx="519.1" cy="349.7" r="1.0"/><circle cx="522.6" cy="346.4" r="1.0"/><circle cx="526.1" cy="343.3" r="1.0"/><circle cx="529.6" cy="341.0" r="1.0"/><circle cx="533.1" cy="339.0" r="1.0"/><circle cx="536.6" cy="337.9" r="1.0"/><circle cx="540.1" cy="336.5" r="1.0"/><circle cx="543.6" cy="334.3" r="1.0"/><circle cx="547.1" cy="332.4" r="1.0"/><circle cx="550.6" cy="331.1" r="1.0"/><circle cx="554.1" cy="329.5" r="1.0"/><circle cx="557.6" cy="328.7" r="1.0"/><circle cx="561.1" cy="327.8" r="1.0"/><circle cx="564.6" cy="326.4" r="1.0"/><circle cx="568.1" cy="325.3" r="1.0"/><circle cx="571.6" cy="324.7" r="1.0"/><circle cx="575.1" cy="322.3" r="1.0"/><circle cx="578.6" cy="320.5" r="1.0"/><circle cx="582.1" cy="319.7" r="1.0"/><circle cx="585.6" cy="319.2" r="1.0"/><circle cx="589.1" cy="318.1" r="1.0"/><circle cx="592.6" cy="317.4" r="1.0"/><circle cx="596.1" cy="316.1" r="1.0"/><circle cx="599.6" cy="315.5" r="1.0"/><circle cx="603.1" cy="315.1" r="1.0"/><circle cx="606.6" cy="313.1" r="1.0"/><circle cx="610.1" cy="311.3" r="1.0"/><circle cx="613.6" cy="310.4" r="1.0"/><circle cx="617.1" cy="309.6" r="1.0"/><circle cx="620.6" cy="309.1" r="1.0"/><circle cx="624.1" cy="308.4" r="1.0"/></g>
<line x1="477.4" y1="231.8" x2="630.5" y2="231.8" stroke="#c4c4c4" stroke-width="1.3"/>
<line x1="630.5" y1="231.8" x2="630.5" y2="433.9" stroke="#8a8a8a" stroke-width="1"/>
<line x1="477.4" y1="433.9" x2="630.5" y2="433.9" stroke="#999" stroke-width="1"/>
<line x1="477.4" y1="231.8" x2="477.4" y2="433.9" stroke="#666" stroke-width="1"/>
<line x1="475.79999999999995" y1="425.00" x2="477.4" y2="425.00" stroke="#333" stroke-width="0.8"/>
<text class="s" x="475.00" y="426.40" font-size="3.95" fill="#333" text-anchor="end">0.00</text>
<line x1="475.79999999999995" y1="379.07" x2="477.4" y2="379.07" stroke="#333" stroke-width="0.8"/>
<text class="s" x="475.00" y="380.47" font-size="3.95" fill="#333" text-anchor="end">0.25</text>
<line x1="475.79999999999995" y1="333.15" x2="477.4" y2="333.15" stroke="#333" stroke-width="0.8"/>
<text class="s" x="475.00" y="334.55" font-size="3.95" fill="#333" text-anchor="end">0.50</text>
<line x1="475.79999999999995" y1="287.23" x2="477.4" y2="287.23" stroke="#333" stroke-width="0.8"/>
<text class="s" x="475.00" y="288.62" font-size="3.95" fill="#333" text-anchor="end">0.75</text>
<line x1="475.79999999999995" y1="241.30" x2="477.4" y2="241.30" stroke="#333" stroke-width="0.8"/>
<text class="s" x="475.00" y="242.70" font-size="3.95" fill="#333" text-anchor="end">1.00</text>
<line x1="484.10" y1="433.9" x2="484.10" y2="435.5" stroke="#333" stroke-width="0.8"/>
<text class="s" x="484.10" y="439.50" font-size="3.95" fill="#333" text-anchor="middle">0</text>
<line x1="504.10" y1="433.9" x2="504.10" y2="435.5" stroke="#333" stroke-width="0.8"/>
<text class="s" x="504.10" y="439.50" font-size="3.95" fill="#333" text-anchor="middle">4000</text>
<line x1="524.10" y1="433.9" x2="524.10" y2="435.5" stroke="#333" stroke-width="0.8"/>
<text class="s" x="524.10" y="439.50" font-size="3.95" fill="#333" text-anchor="middle">8000</text>
<line x1="544.10" y1="433.9" x2="544.10" y2="435.5" stroke="#333" stroke-width="0.8"/>
<text class="s" x="544.10" y="439.50" font-size="3.95" fill="#333" text-anchor="middle">12000</text>
<line x1="564.10" y1="433.9" x2="564.10" y2="435.5" stroke="#333" stroke-width="0.8"/>
<text class="s" x="564.10" y="439.50" font-size="3.95" fill="#333" text-anchor="middle">16000</text>
<line x1="584.10" y1="433.9" x2="584.10" y2="435.5" stroke="#333" stroke-width="0.8"/>
<text class="s" x="584.10" y="439.50" font-size="3.95" fill="#333" text-anchor="middle">20000</text>
<line x1="604.10" y1="433.9" x2="604.10" y2="435.5" stroke="#333" stroke-width="0.8"/>
<text class="s" x="604.10" y="439.50" font-size="3.95" fill="#333" text-anchor="middle">24000</text>
<line x1="624.10" y1="433.9" x2="624.10" y2="435.5" stroke="#333" stroke-width="0.8"/>
<text class="s" x="624.10" y="439.50" font-size="3.95" fill="#333" text-anchor="middle">28000</text>
<text class="s" x="553.95" y="445.2" font-size="4.9" fill="#000" text-anchor="middle">Number of Genes in Meta−Analysis Gene List</text>
<text class="s" transform="translate(464.5,332.85) rotate(-90)" font-size="5.0" fill="#000" text-anchor="middle">Percentage of Top 50 RCA Gene List Genes Found Amongst Meta−Analysis Gene List</text>
<text class="s" x="477.1" y="231.0" font-size="5.87" fill="#000">Sensitivity of Meta−Analysis Methods to Detect AD DEGs</text>
<text class="r" x="454.2" y="227.7" font-size="14" font-weight="bold" fill="#000">C</text>
<text class="s" x="638.0" y="321.75" font-size="4.9" fill="#000">MetaAnalysis_Type</text>
<line x1="638.90" y1="328.60" x2="645.20" y2="328.60" stroke="#F8766D" stroke-width="0.8"/>
<circle cx="642.10" cy="328.60" r="1.1" fill="#F8766D"/>
<text class="s" x="648.80" y="330.05" font-size="4.1" fill="#222">Inverse_Variance</text>
<line x1="638.90" y1="336.50" x2="645.20" y2="336.50" stroke="#00BA38" stroke-width="0.8"/>
<circle cx="642.10" cy="336.50" r="1.1" fill="#00BA38"/>
<text class="s" x="648.80" y="337.95" font-size="4.1" fill="#222">Merge</text>
<line x1="638.90" y1="344.40" x2="645.20" y2="344.40" stroke="#619CFF" stroke-width="0.8"/>
<circle cx="642.10" cy="344.40" r="1.1" fill="#619CFF"/>
<text class="s" x="648.80" y="345.85" font-size="4.1" fill="#222">SumRank</text>
<line x1="482.00" y1="452.6" x2="482.00" y2="654.6" stroke="#ebebeb" stroke-width="0.55"/><line x1="492.27" y1="452.6" x2="492.27" y2="654.6" stroke="#ebebeb" stroke-width="0.3"/><line x1="502.54" y1="452.6" x2="502.54" y2="654.6" stroke="#ebebeb" stroke-width="0.55"/><line x1="512.81" y1="452.6" x2="512.81" y2="654.6" stroke="#ebebeb" stroke-width="0.3"/><line x1="523.08" y1="452.6" x2="523.08" y2="654.6" stroke="#ebebeb" stroke-width="0.55"/><line x1="533.35" y1="452.6" x2="533.35" y2="654.6" stroke="#ebebeb" stroke-width="0.3"/><line x1="543.62" y1="452.6" x2="543.62" y2="654.6" stroke="#ebebeb" stroke-width="0.55"/><line x1="553.89" y1="452.6" x2="553.89" y2="654.6" stroke="#ebebeb" stroke-width="0.3"/><line x1="564.16" y1="452.6" x2="564.16" y2="654.6" stroke="#ebebeb" stroke-width="0.55"/><line x1="574.43" y1="452.6" x2="574.43" y2="654.6" stroke="#ebebeb" stroke-width="0.3"/><line x1="584.70" y1="452.6" x2="584.70" y2="654.6" stroke="#ebebeb" stroke-width="0.55"/><line x1="594.97" y1="452.6" x2="594.97" y2="654.6" stroke="#ebebeb" stroke-width="0.3"/><line x1="605.24" y1="452.6" x2="605.24" y2="654.6" stroke="#ebebeb" stroke-width="0.55"/><line x1="615.51" y1="452.6" x2="615.51" y2="654.6" stroke="#ebebeb" stroke-width="0.3"/><line x1="625.78" y1="452.6" x2="625.78" y2="654.6" stroke="#ebebeb" stroke-width="0.55"/><line x1="475.5" y1="645.70" x2="632.5" y2="645.70" stroke="#ebebeb" stroke-width="0.3"/><line x1="475.5" y1="627.30" x2="632.5" y2="627.30" stroke="#ebebeb" stroke-width="0.55"/><line x1="475.5" y1="608.90" x2="632.5" y2="608.90" stroke="#ebebeb" stroke-width="0.3"/><line x1="475.5" y1="590.50" x2="632.5" y2="590.50" stroke="#ebebeb" stroke-width="0.55"/><line x1="475.5" y1="572.10" x2="632.5" y2="572.10" stroke="#ebebeb" stroke-width="0.3"/><line x1="475.5" y1="553.70" x2="632.5" y2="553.70" stroke="#ebebeb" stroke-width="0.55"/><line x1="475.5" y1="535.30" x2="632.5" y2="535.30" stroke="#ebebeb" stroke-width="0.3"/><line x1="475.5" y1="516.90" x2="632.5" y2="516.90" stroke="#ebebeb" stroke-width="0.55"/><line x1="475.5" y1="498.50" x2="632.5" y2="498.50" stroke="#ebebeb" stroke-width="0.3"/><line x1="475.5" y1="480.10" x2="632.5" y2="480.10" stroke="#ebebeb" stroke-width="0.55"/><line x1="475.5" y1="461.70" x2="632.5" y2="461.70" stroke="#ebebeb" stroke-width="0.3"/>
<path d="M481.80,605.00 L482.70,603.49 L483.70,601.10 L484.90,603.49 L486.60,605.88 L488.68,604.35 L489.19,604.02 L489.70,603.71 L490.22,603.40 L490.73,603.10 L491.24,602.79 L491.76,602.48 L492.27,602.18 L492.78,601.94 L493.30,601.82 L493.81,601.71 L494.32,601.59 L494.84,601.48 L495.35,601.36 L495.86,601.24 L496.38,601.13 L496.89,601.01 L497.40,600.97 L497.92,600.95 L498.43,600.93 L498.95,600.91 L499.46,600.89 L499.97,600.86 L500.49,600.84 L501.00,600.82 L501.51,600.86 L502.03,601.10 L502.54,601.34 L503.05,601.59 L503.57,601.74 L504.08,601.33 L504.59,600.91 L505.11,600.57 L505.62,600.51 L506.13,600.45 L506.65,600.38 L507.16,600.32 L507.68,600.26 L508.19,600.20 L508.70,600.14 L509.22,600.08 L509.73,600.01 L510.24,599.95 L510.76,599.89 L511.27,599.87 L511.78,599.86 L512.30,599.85 L512.81,599.83 L513.32,599.82 L513.84,599.81 L514.35,599.79 L514.86,599.78 L515.38,599.77 L515.89,599.76 L516.40,599.74 L516.92,599.73 L517.43,599.72 L517.95,599.70 L518.46,599.69 L518.97,599.66 L519.49,599.64 L520.00,599.62 L520.51,599.60 L521.03,599.58 L521.54,599.56 L522.05,599.54 L522.57,599.52 L523.08,599.50 L523.59,599.48 L524.11,599.45 L524.62,599.43 L525.13,599.41 L525.65,599.39 L526.16,599.37 L526.67,599.35 L527.19,599.33 L527.70,599.31 L528.22,599.29 L528.73,599.28 L529.24,599.26 L529.76,599.25 L530.27,599.24 L530.78,599.23 L531.30,599.21 L531.81,599.20 L532.32,599.19 L532.84,599.17 L533.35,599.16 L533.86,599.15 L534.38,599.14 L534.89,599.12 L535.40,599.11 L535.92,599.10 L536.43,599.08 L536.94,599.07 L537.46,599.06 L537.97,599.05 L538.49,599.03 L539.00,599.02 L539.51,599.01 L540.03,598.99 L540.54,598.98 L541.05,598.97 L541.57,598.96 L542.08,598.94 L542.59,598.93 L543.11,598.92 L543.62,598.91 L544.13,598.89 L544.65,598.88 L545.16,598.87 L545.67,598.85 L546.19,598.84 L546.70,598.83 L547.21,598.82 L547.73,598.80 L548.24,598.79 L548.75,598.78 L549.27,598.76 L549.78,598.75 L550.30,598.74 L550.81,598.73 L551.32,598.71 L551.84,598.70 L552.35,598.69 L552.86,598.67 L553.38,598.66 L553.89,598.65 L554.40,598.64 L554.92,598.62 L555.43,598.61 L555.94,598.60 L556.46,598.60 L556.97,598.60 L557.48,598.60 L558.00,598.60 L558.51,598.60 L559.02,598.60 L559.54,598.60 L560.05,598.60 L560.57,598.60 L561.08,598.60 L561.59,598.60 L562.11,598.60 L562.62,598.60 L563.13,598.60 L563.65,598.60 L564.16,598.60 L564.67,598.60 L565.19,598.60 L565.70,598.60 L566.21,598.60 L566.73,598.60 L567.24,598.60 L567.75,598.60 L568.27,598.60 L568.78,598.60 L569.29,598.60 L569.81,598.60 L570.32,598.60 L570.84,598.60 L571.35,598.60 L571.86,598.60 L572.38,598.60 L572.89,598.60 L573.40,598.60 L573.92,598.60 L574.43,598.60 L574.94,598.60 L575.46,598.60 L575.97,598.60 L576.48,598.60 L577.00,598.60 L577.51,598.60 L578.02,598.60 L578.54,598.60 L579.05,598.60 L579.57,598.60 L580.08,598.60 L580.59,598.60 L581.11,598.60 L581.62,598.60 L582.13,598.60 L582.65,598.60 L583.16,598.60 L583.67,598.60 L584.19,598.60 L584.70,598.60 L585.21,598.60 L585.73,598.60 L586.24,598.60 L586.75,598.60 L587.27,598.60 L587.78,598.60 L588.29,598.60 L588.81,598.60 L589.32,598.60 L589.84,598.60 L590.35,598.60 L590.86,598.60 L591.38,598.60 L591.89,598.60 L592.40,598.60 L592.92,598.60 L593.43,598.60 L593.94,598.60 L594.46,598.60 L594.97,598.60 L595.48,598.60 L596.00,598.60 L596.51,598.60 L597.02,598.60 L597.54,598.60 L598.05,598.60 L598.56,598.60 L599.08,598.60 L599.59,598.60 L600.11,598.60 L600.62,598.60 L601.13,598.60 L601.65,598.60 L602.16,598.60 L602.67,598.60 L603.19,598.60 L603.70,598.60 L604.21,598.60 L604.73,598.60 L605.24,598.60 L605.75,598.60 L606.27,598.60 L606.78,598.60 L607.29,598.60 L607.81,598.60 L608.32,598.60 L608.83,598.60 L609.35,598.60 L609.86,598.60 L610.38,598.60 L610.89,598.60 L611.40,598.60 L611.92,598.60 L612.43,598.60 L612.94,598.60 L613.46,598.60 L613.97,598.60 L614.48,598.60 L615.00,598.60 L615.51,598.60 L616.02,598.60 L616.54,598.60 L617.05,598.60 L617.56,598.60 L618.08,598.60 L618.59,598.60 L619.10,598.60 L619.62,598.60 L620.13,598.60 L620.64,598.60 L621.16,598.60 L621.67,598.60 L622.19,598.60 L622.70,598.60 L623.21,598.60 L623.73,598.60 L624.24,598.60 L624.75,598.60 L625.27,598.60 L625.78,598.60" fill="none" stroke="#F8766D" stroke-width="0.7" stroke-linejoin="round"/>
<g fill="#F8766D"><circle cx="481.8" cy="605.0" r="1.0"/><circle cx="482.7" cy="603.5" r="1.0"/><circle cx="483.7" cy="601.1" r="1.0"/><circle cx="484.9" cy="603.5" r="1.0"/><circle cx="486.6" cy="605.9" r="1.0"/><circle cx="488.7" cy="604.4" r="1.0"/><circle cx="489.2" cy="604.0" r="1.0"/><circle cx="489.7" cy="603.7" r="1.0"/><circle cx="490.2" cy="603.4" r="1.0"/><circle cx="490.7" cy="603.1" r="1.0"/><circle cx="491.2" cy="602.8" r="1.0"/><circle cx="491.8" cy="602.5" r="1.0"/><circle cx="492.3" cy="602.2" r="1.0"/><circle cx="492.8" cy="601.9" r="1.0"/><circle cx="493.3" cy="601.8" r="1.0"/><circle cx="493.8" cy="601.7" r="1.0"/><circle cx="494.3" cy="601.6" r="1.0"/><circle cx="494.8" cy="601.5" r="1.0"/><circle cx="495.4" cy="601.4" r="1.0"/><circle cx="495.9" cy="601.2" r="1.0"/><circle cx="496.4" cy="601.1" r="1.0"/><circle cx="496.9" cy="601.0" r="1.0"/><circle cx="497.4" cy="601.0" r="1.0"/><circle cx="497.9" cy="600.9" r="1.0"/><circle cx="498.4" cy="600.9" r="1.0"/><circle cx="498.9" cy="600.9" r="1.0"/><circle cx="499.5" cy="600.9" r="1.0"/><circle cx="500.0" cy="600.9" r="1.0"/><circle cx="500.5" cy="600.8" r="1.0"/><circle cx="501.0" cy="600.8" r="1.0"/><circle cx="501.5" cy="600.9" r="1.0"/><circle cx="502.0" cy="601.1" r="1.0"/><circle cx="502.5" cy="601.3" r="1.0"/><circle cx="503.1" cy="601.6" r="1.0"/><circle cx="503.6" cy="601.7" r="1.0"/><circle cx="504.1" cy="601.3" r="1.0"/><circle cx="504.6" cy="600.9" r="1.0"/><circle cx="505.1" cy="600.6" r="1.0"/><circle cx="505.6" cy="600.5" r="1.0"/><circle cx="506.1" cy="600.4" r="1.0"/><circle cx="506.6" cy="600.4" r="1.0"/><circle cx="507.2" cy="600.3" r="1.0"/><circle cx="507.7" cy="600.3" r="1.0"/><circle cx="508.2" cy="600.2" r="1.0"/><circle cx="508.7" cy="600.1" r="1.0"/><circle cx="509.2" cy="600.1" r="1.0"/><circle cx="509.7" cy="600.0" r="1.0"/><circle cx="510.2" cy="600.0" r="1.0"/><circle cx="510.8" cy="599.9" r="1.0"/><circle cx="511.3" cy="599.9" r="1.0"/><circle cx="511.8" cy="599.9" r="1.0"/><circle cx="512.3" cy="599.8" r="1.0"/><circle cx="512.8" cy="599.8" r="1.0"/><circle cx="513.3" cy="599.8" r="1.0"/><circle cx="513.8" cy="599.8" r="1.0"/><circle cx="514.4" cy="599.8" r="1.0"/><circle cx="514.9" cy="599.8" r="1.0"/><circle cx="515.4" cy="599.8" r="1.0"/><circle cx="515.9" cy="599.8" r="1.0"/><circle cx="516.4" cy="599.7" r="1.0"/><circle cx="516.9" cy="599.7" r="1.0"/><circle cx="517.4" cy="599.7" r="1.0"/><circle cx="517.9" cy="599.7" r="1.0"/><circle cx="518.5" cy="599.7" r="1.0"/><circle cx="519.0" cy="599.7" r="1.0"/><circle cx="519.5" cy="599.6" r="1.0"/><circle cx="520.0" cy="599.6" r="1.0"/><circle cx="520.5" cy="599.6" r="1.0"/><circle cx="521.0" cy="599.6" r="1.0"/><circle cx="521.5" cy="599.6" r="1.0"/><circle cx="522.1" cy="599.5" r="1.0"/><circle cx="522.6" cy="599.5" r="1.0"/><circle cx="523.1" cy="599.5" r="1.0"/><circle cx="523.6" cy="599.5" r="1.0"/><circle cx="524.1" cy="599.5" r="1.0"/><circle cx="524.6" cy="599.4" r="1.0"/><circle cx="525.1" cy="599.4" r="1.0"/><circle cx="525.6" cy="599.4" r="1.0"/><circle cx="526.2" cy="599.4" r="1.0"/><circle cx="526.7" cy="599.3" r="1.0"/><circle cx="527.2" cy="599.3" r="1.0"/><circle cx="527.7" cy="599.3" r="1.0"/><circle cx="528.2" cy="599.3" r="1.0"/><circle cx="528.7" cy="599.3" r="1.0"/><circle cx="529.2" cy="599.3" r="1.0"/><circle cx="529.8" cy="599.3" r="1.0"/><circle cx="530.3" cy="599.2" r="1.0"/><circle cx="530.8" cy="599.2" r="1.0"/><circle cx="531.3" cy="599.2" r="1.0"/><circle cx="531.8" cy="599.2" r="1.0"/><circle cx="532.3" cy="599.2" r="1.0"/><circle cx="532.8" cy="599.2" r="1.0"/><circle cx="533.4" cy="599.2" r="1.0"/><circle cx="533.9" cy="599.1" r="1.0"/><circle cx="534.4" cy="599.1" r="1.0"/><circle cx="534.9" cy="599.1" r="1.0"/><circle cx="535.4" cy="599.1" r="1.0"/><circle cx="535.9" cy="599.1" r="1.0"/><circle cx="536.4" cy="599.1" r="1.0"/><circle cx="536.9" cy="599.1" r="1.0"/><circle cx="537.5" cy="599.1" r="1.0"/><circle cx="538.0" cy="599.0" r="1.0"/><circle cx="538.5" cy="599.0" r="1.0"/><circle cx="539.0" cy="599.0" r="1.0"/><circle cx="539.5" cy="599.0" r="1.0"/><circle cx="540.0" cy="599.0" r="1.0"/><circle cx="540.5" cy="599.0" r="1.0"/><circle cx="541.1" cy="599.0" r="1.0"/><circle cx="541.6" cy="599.0" r="1.0"/><circle cx="542.1" cy="598.9" r="1.0"/><circle cx="542.6" cy="598.9" r="1.0"/><circle cx="543.1" cy="598.9" r="1.0"/><circle cx="543.6" cy="598.9" r="1.0"/><circle cx="544.1" cy="598.9" r="1.0"/><circle cx="544.6" cy="598.9" r="1.0"/><circle cx="545.2" cy="598.9" r="1.0"/><circle cx="545.7" cy="598.9" r="1.0"/><circle cx="546.2" cy="598.8" r="1.0"/><circle cx="546.7" cy="598.8" r="1.0"/><circle cx="547.2" cy="598.8" r="1.0"/><circle cx="547.7" cy="598.8" r="1.0"/><circle cx="548.2" cy="598.8" r="1.0"/><circle cx="548.8" cy="598.8" r="1.0"/><circle cx="549.3" cy="598.8" r="1.0"/><circle cx="549.8" cy="598.8" r="1.0"/><circle cx="550.3" cy="598.7" r="1.0"/><circle cx="550.8" cy="598.7" r="1.0"/><circle cx="551.3" cy="598.7" r="1.0"/><circle cx="551.8" cy="598.7" r="1.0"/><circle cx="552.3" cy="598.7" r="1.0"/><circle cx="552.9" cy="598.7" r="1.0"/><circle cx="553.4" cy="598.7" r="1.0"/><circle cx="553.9" cy="598.6" r="1.0"/><circle cx="554.4" cy="598.6" r="1.0"/><circle cx="554.9" cy="598.6" r="1.0"/><circle cx="555.4" cy="598.6" r="1.0"/><circle cx="555.9" cy="598.6" r="1.0"/><circle cx="556.5" cy="598.6" r="1.0"/><circle cx="557.0" cy="598.6" r="1.0"/><circle cx="557.5" cy="598.6" r="1.0"/><circle cx="558.0" cy="598.6" r="1.0"/><circle cx="558.5" cy="598.6" r="1.0"/><circle cx="559.0" cy="598.6" r="1.0"/><circle cx="559.5" cy="598.6" r="1.0"/><circle cx="560.1" cy="598.6" r="1.0"/><circle cx="560.6" cy="598.6" r="1.0"/><circle cx="561.1" cy="598.6" r="1.0"/><circle cx="561.6" cy="598.6" r="1.0"/><circle cx="562.1" cy="598.6" r="1.0"/><circle cx="562.6" cy="598.6" r="1.0"/><circle cx="563.1" cy="598.6" r="1.0"/><circle cx="563.6" cy="598.6" r="1.0"/><circle cx="564.2" cy="598.6" r="1.0"/><circle cx="564.7" cy="598.6" r="1.0"/><circle cx="565.2" cy="598.6" r="1.0"/><circle cx="565.7" cy="598.6" r="1.0"/><circle cx="566.2" cy="598.6" r="1.0"/><circle cx="566.7" cy="598.6" r="1.0"/><circle cx="567.2" cy="598.6" r="1.0"/><circle cx="567.8" cy="598.6" r="1.0"/><circle cx="568.3" cy="598.6" r="1.0"/><circle cx="568.8" cy="598.6" r="1.0"/><circle cx="569.3" cy="598.6" r="1.0"/><circle cx="569.8" cy="598.6" r="1.0"/><circle cx="570.3" cy="598.6" r="1.0"/><circle cx="570.8" cy="598.6" r="1.0"/><circle cx="571.3" cy="598.6" r="1.0"/><circle cx="571.9" cy="598.6" r="1.0"/><circle cx="572.4" cy="598.6" r="1.0"/><circle cx="572.9" cy="598.6" r="1.0"/><circle cx="573.4" cy="598.6" r="1.0"/><circle cx="573.9" cy="598.6" r="1.0"/><circle cx="574.4" cy="598.6" r="1.0"/><circle cx="574.9" cy="598.6" r="1.0"/><circle cx="575.5" cy="598.6" r="1.0"/><circle cx="576.0" cy="598.6" r="1.0"/><circle cx="576.5" cy="598.6" r="1.0"/><circle cx="577.0" cy="598.6" r="1.0"/><circle cx="577.5" cy="598.6" r="1.0"/><circle cx="578.0" cy="598.6" r="1.0"/><circle cx="578.5" cy="598.6" r="1.0"/><circle cx="579.1" cy="598.6" r="1.0"/><circle cx="579.6" cy="598.6" r="1.0"/><circle cx="580.1" cy="598.6" r="1.0"/><circle cx="580.6" cy="598.6" r="1.0"/><circle cx="581.1" cy="598.6" r="1.0"/><circle cx="581.6" cy="598.6" r="1.0"/><circle cx="582.1" cy="598.6" r="1.0"/><circle cx="582.6" cy="598.6" r="1.0"/><circle cx="583.2" cy="598.6" r="1.0"/><circle cx="583.7" cy="598.6" r="1.0"/><circle cx="584.2" cy="598.6" r="1.0"/><circle cx="584.7" cy="598.6" r="1.0"/><circle cx="585.2" cy="598.6" r="1.0"/><circle cx="585.7" cy="598.6" r="1.0"/><circle cx="586.2" cy="598.6" r="1.0"/><circle cx="586.8" cy="598.6" r="1.0"/><circle cx="587.3" cy="598.6" r="1.0"/><circle cx="587.8" cy="598.6" r="1.0"/><circle cx="588.3" cy="598.6" r="1.0"/><circle cx="588.8" cy="598.6" r="1.0"/><circle cx="589.3" cy="598.6" r="1.0"/><circle cx="589.8" cy="598.6" r="1.0"/><circle cx="590.3" cy="598.6" r="1.0"/><circle cx="590.9" cy="598.6" r="1.0"/><circle cx="591.4" cy="598.6" r="1.0"/><circle cx="591.9" cy="598.6" r="1.0"/><circle cx="592.4" cy="598.6" r="1.0"/><circle cx="592.9" cy="598.6" r="1.0"/><circle cx="593.4" cy="598.6" r="1.0"/><circle cx="593.9" cy="598.6" r="1.0"/><circle cx="594.5" cy="598.6" r="1.0"/><circle cx="595.0" cy="598.6" r="1.0"/><circle cx="595.5" cy="598.6" r="1.0"/><circle cx="596.0" cy="598.6" r="1.0"/><circle cx="596.5" cy="598.6" r="1.0"/><circle cx="597.0" cy="598.6" r="1.0"/><circle cx="597.5" cy="598.6" r="1.0"/><circle cx="598.1" cy="598.6" r="1.0"/><circle cx="598.6" cy="598.6" r="1.0"/><circle cx="599.1" cy="598.6" r="1.0"/><circle cx="599.6" cy="598.6" r="1.0"/><circle cx="600.1" cy="598.6" r="1.0"/><circle cx="600.6" cy="598.6" r="1.0"/><circle cx="601.1" cy="598.6" r="1.0"/><circle cx="601.6" cy="598.6" r="1.0"/><circle cx="602.2" cy="598.6" r="1.0"/><circle cx="602.7" cy="598.6" r="1.0"/><circle cx="603.2" cy="598.6" r="1.0"/><circle cx="603.7" cy="598.6" r="1.0"/><circle cx="604.2" cy="598.6" r="1.0"/><circle cx="604.7" cy="598.6" r="1.0"/><circle cx="605.2" cy="598.6" r="1.0"/><circle cx="605.8" cy="598.6" r="1.0"/><circle cx="606.3" cy="598.6" r="1.0"/><circle cx="606.8" cy="598.6" r="1.0"/><circle cx="607.3" cy="598.6" r="1.0"/><circle cx="607.8" cy="598.6" r="1.0"/><circle cx="608.3" cy="598.6" r="1.0"/><circle cx="608.8" cy="598.6" r="1.0"/><circle cx="609.3" cy="598.6" r="1.0"/><circle cx="609.9" cy="598.6" r="1.0"/><circle cx="610.4" cy="598.6" r="1.0"/><circle cx="610.9" cy="598.6" r="1.0"/><circle cx="611.4" cy="598.6" r="1.0"/><circle cx="611.9" cy="598.6" r="1.0"/><circle cx="612.4" cy="598.6" r="1.0"/><circle cx="612.9" cy="598.6" r="1.0"/><circle cx="613.5" cy="598.6" r="1.0"/><circle cx="614.0" cy="598.6" r="1.0"/><circle cx="614.5" cy="598.6" r="1.0"/><circle cx="615.0" cy="598.6" r="1.0"/><circle cx="615.5" cy="598.6" r="1.0"/><circle cx="616.0" cy="598.6" r="1.0"/><circle cx="616.5" cy="598.6" r="1.0"/><circle cx="617.1" cy="598.6" r="1.0"/><circle cx="617.6" cy="598.6" r="1.0"/><circle cx="618.1" cy="598.6" r="1.0"/><circle cx="618.6" cy="598.6" r="1.0"/><circle cx="619.1" cy="598.6" r="1.0"/><circle cx="619.6" cy="598.6" r="1.0"/><circle cx="620.1" cy="598.6" r="1.0"/><circle cx="620.6" cy="598.6" r="1.0"/><circle cx="621.2" cy="598.6" r="1.0"/><circle cx="621.7" cy="598.6" r="1.0"/><circle cx="622.2" cy="598.6" r="1.0"/><circle cx="622.7" cy="598.6" r="1.0"/><circle cx="623.2" cy="598.6" r="1.0"/><circle cx="623.7" cy="598.6" r="1.0"/><circle cx="624.2" cy="598.6" r="1.0"/><circle cx="624.8" cy="598.6" r="1.0"/><circle cx="625.3" cy="598.6" r="1.0"/><circle cx="625.8" cy="598.6" r="1.0"/></g>
<path d="M482.20,537.88 L482.90,552.96 L483.70,554.07 L484.30,557.38 L485.50,559.59 L487.00,562.53 L489.20,565.11 L490.73,566.33 L491.24,566.74 L491.76,566.91 L492.27,566.82 L492.78,566.73 L493.30,566.65 L493.81,566.63 L494.32,566.88 L494.84,567.13 L495.35,567.37 L495.86,567.62 L496.38,567.81 L496.89,567.98 L497.40,568.14 L497.92,568.31 L498.43,568.48 L498.95,568.65 L499.46,568.82 L499.97,568.98 L500.49,569.15 L501.00,569.28 L501.51,569.40 L502.03,569.53 L502.54,569.66 L503.05,569.78 L503.57,569.91 L504.08,570.03 L504.59,570.16 L505.11,570.29 L505.62,570.41 L506.13,570.54 L506.65,570.65 L507.16,570.73 L507.68,570.81 L508.19,570.89 L508.70,570.97 L509.22,571.04 L509.73,571.12 L510.24,571.20 L510.76,571.28 L511.27,571.36 L511.78,571.44 L512.30,571.52 L512.81,571.60 L513.32,571.69 L513.84,571.77 L514.35,571.86 L514.86,571.94 L515.38,572.03 L515.89,572.12 L516.40,572.20 L516.92,572.29 L517.43,572.37 L517.95,572.46 L518.46,572.55 L518.97,572.65 L519.49,572.74 L520.00,572.84 L520.51,572.93 L521.03,573.02 L521.54,573.12 L522.05,573.21 L522.57,573.31 L523.08,573.40 L523.59,573.50 L524.11,573.59 L524.62,573.69 L525.13,573.78 L525.65,573.88 L526.16,573.97 L526.67,574.06 L527.19,574.16 L527.70,574.25 L528.22,574.35 L528.73,574.44 L529.24,574.54 L529.76,574.63 L530.27,574.71 L530.78,574.78 L531.30,574.85 L531.81,574.92 L532.32,574.99 L532.84,575.06 L533.35,575.13 L533.86,575.20 L534.38,575.27 L534.89,575.34 L535.40,575.41 L535.92,575.48 L536.43,575.55 L536.94,575.62 L537.46,575.69 L537.97,575.76 L538.49,575.83 L539.00,575.90 L539.51,575.97 L540.03,576.04 L540.54,576.11 L541.05,576.18 L541.57,576.25 L542.08,576.32 L542.59,576.39 L543.11,576.46 L543.62,576.53 L544.13,576.59 L544.65,576.65 L545.16,576.70 L545.67,576.76 L546.19,576.82 L546.70,576.88 L547.21,576.94 L547.73,576.99 L548.24,577.05 L548.75,577.11 L549.27,577.17 L549.78,577.23 L550.30,577.29 L550.81,577.35 L551.32,577.41 L551.84,577.48 L552.35,577.54 L552.86,577.60 L553.38,577.67 L553.89,577.73 L554.40,577.79 L554.92,577.86 L555.43,577.92 L555.94,577.98 L556.46,578.04 L556.97,578.11 L557.48,578.17 L558.00,578.23 L558.51,578.30 L559.02,578.36 L559.54,578.42 L560.05,578.49 L560.57,578.55 L561.08,578.61 L561.59,578.67 L562.11,578.74 L562.62,578.80 L563.13,578.86 L563.65,578.93 L564.16,578.99 L564.67,579.05 L565.19,579.11 L565.70,579.16 L566.21,579.21 L566.73,579.26 L567.24,579.31 L567.75,579.36 L568.27,579.41 L568.78,579.46 L569.29,579.51 L569.81,579.56 L570.32,579.61 L570.84,579.66 L571.35,579.72 L571.86,579.77 L572.38,579.82 L572.89,579.87 L573.40,579.92 L573.92,579.97 L574.43,580.02 L574.94,580.07 L575.46,580.12 L575.97,580.17 L576.48,580.22 L577.00,580.27 L577.51,580.32 L578.02,580.37 L578.54,580.42 L579.05,580.47 L579.57,580.52 L580.08,580.57 L580.59,580.61 L581.11,580.65 L581.62,580.68 L582.13,580.72 L582.65,580.76 L583.16,580.80 L583.67,580.83 L584.19,580.87 L584.70,580.91 L585.21,580.95 L585.73,580.99 L586.24,581.02 L586.75,581.06 L587.27,581.10 L587.78,581.14 L588.29,581.17 L588.81,581.21 L589.32,581.25 L589.84,581.29 L590.35,581.33 L590.86,581.36 L591.38,581.40 L591.89,581.44 L592.40,581.48 L592.92,581.51 L593.43,581.55 L593.94,581.59 L594.46,581.63 L594.97,581.67 L595.48,581.72 L596.00,581.77 L596.51,581.82 L597.02,581.87 L597.54,581.92 L598.05,581.97 L598.56,582.02 L599.08,582.07 L599.59,582.12 L600.11,582.17 L600.62,582.22 L601.13,582.27 L601.65,582.32 L602.16,582.37 L602.67,582.42 L603.19,582.47 L603.70,582.52 L604.21,582.57 L604.73,582.62 L605.24,582.67 L605.75,582.72 L606.27,582.77 L606.78,582.82 L607.29,582.87 L607.81,582.92 L608.32,582.98 L608.83,583.03 L609.35,583.08 L609.86,583.13 L610.38,583.16 L610.89,583.18 L611.40,583.21 L611.92,583.23 L612.43,583.25 L612.94,583.28 L613.46,583.30 L613.97,583.33 L614.48,583.35 L615.00,583.37 L615.51,583.40 L616.02,583.42 L616.54,583.44 L617.05,583.47 L617.56,583.49 L618.08,583.52 L618.59,583.54 L619.10,583.56 L619.62,583.59 L620.13,583.61 L620.64,583.64 L621.16,583.66 L621.67,583.68 L622.19,583.71 L622.70,583.73 L623.21,583.76 L623.73,583.78 L624.24,583.80 L624.75,583.83 L625.27,583.85 L625.78,583.88" fill="none" stroke="#00BA38" stroke-width="0.7" stroke-linejoin="round"/>
<g fill="#00BA38"><circle cx="482.2" cy="537.9" r="1.0"/><circle cx="482.9" cy="553.0" r="1.0"/><circle cx="483.7" cy="554.1" r="1.0"/><circle cx="484.3" cy="557.4" r="1.0"/><circle cx="485.5" cy="559.6" r="1.0"/><circle cx="487.0" cy="562.5" r="1.0"/><circle cx="489.2" cy="565.1" r="1.0"/><circle cx="490.7" cy="566.3" r="1.0"/><circle cx="491.2" cy="566.7" r="1.0"/><circle cx="491.8" cy="566.9" r="1.0"/><circle cx="492.3" cy="566.8" r="1.0"/><circle cx="492.8" cy="566.7" r="1.0"/><circle cx="493.3" cy="566.6" r="1.0"/><circle cx="493.8" cy="566.6" r="1.0"/><circle cx="494.3" cy="566.9" r="1.0"/><circle cx="494.8" cy="567.1" r="1.0"/><circle cx="495.4" cy="567.4" r="1.0"/><circle cx="495.9" cy="567.6" r="1.0"/><circle cx="496.4" cy="567.8" r="1.0"/><circle cx="496.9" cy="568.0" r="1.0"/><circle cx="497.4" cy="568.1" r="1.0"/><circle cx="497.9" cy="568.3" r="1.0"/><circle cx="498.4" cy="568.5" r="1.0"/><circle cx="498.9" cy="568.6" r="1.0"/><circle cx="499.5" cy="568.8" r="1.0"/><circle cx="500.0" cy="569.0" r="1.0"/><circle cx="500.5" cy="569.2" r="1.0"/><circle cx="501.0" cy="569.3" r="1.0"/><circle cx="501.5" cy="569.4" r="1.0"/><circle cx="502.0" cy="569.5" r="1.0"/><circle cx="502.5" cy="569.7" r="1.0"/><circle cx="503.1" cy="569.8" r="1.0"/><circle cx="503.6" cy="569.9" r="1.0"/><circle cx="504.1" cy="570.0" r="1.0"/><circle cx="504.6" cy="570.2" r="1.0"/><circle cx="505.1" cy="570.3" r="1.0"/><circle cx="505.6" cy="570.4" r="1.0"/><circle cx="506.1" cy="570.5" r="1.0"/><circle cx="506.6" cy="570.7" r="1.0"/><circle cx="507.2" cy="570.7" r="1.0"/><circle cx="507.7" cy="570.8" r="1.0"/><circle cx="508.2" cy="570.9" r="1.0"/><circle cx="508.7" cy="571.0" r="1.0"/><circle cx="509.2" cy="571.0" r="1.0"/><circle cx="509.7" cy="571.1" r="1.0"/><circle cx="510.2" cy="571.2" r="1.0"/><circle cx="510.8" cy="571.3" r="1.0"/><circle cx="511.3" cy="571.4" r="1.0"/><circle cx="511.8" cy="571.4" r="1.0"/><circle cx="512.3" cy="571.5" r="1.0"/><circle cx="512.8" cy="571.6" r="1.0"/><circle cx="513.3" cy="571.7" r="1.0"/><circle cx="513.8" cy="571.8" r="1.0"/><circle cx="514.4" cy="571.9" r="1.0"/><circle cx="514.9" cy="571.9" r="1.0"/><circle cx="515.4" cy="572.0" r="1.0"/><circle cx="515.9" cy="572.1" r="1.0"/><circle cx="516.4" cy="572.2" r="1.0"/><circle cx="516.9" cy="572.3" r="1.0"/><circle cx="517.4" cy="572.4" r="1.0"/><circle cx="517.9" cy="572.5" r="1.0"/><circle cx="518.5" cy="572.6" r="1.0"/><circle cx="519.0" cy="572.6" r="1.0"/><circle cx="519.5" cy="572.7" r="1.0"/><circle cx="520.0" cy="572.8" r="1.0"/><circle cx="520.5" cy="572.9" r="1.0"/><circle cx="521.0" cy="573.0" r="1.0"/><circle cx="521.5" cy="573.1" r="1.0"/><circle cx="522.1" cy="573.2" r="1.0"/><circle cx="522.6" cy="573.3" r="1.0"/><circle cx="523.1" cy="573.4" r="1.0"/><circle cx="523.6" cy="573.5" r="1.0"/><circle cx="524.1" cy="573.6" r="1.0"/><circle cx="524.6" cy="573.7" r="1.0"/><circle cx="525.1" cy="573.8" r="1.0"/><circle cx="525.6" cy="573.9" r="1.0"/><circle cx="526.2" cy="574.0" r="1.0"/><circle cx="526.7" cy="574.1" r="1.0"/><circle cx="527.2" cy="574.2" r="1.0"/><circle cx="527.7" cy="574.3" r="1.0"/><circle cx="528.2" cy="574.3" r="1.0"/><circle cx="528.7" cy="574.4" r="1.0"/><circle cx="529.2" cy="574.5" r="1.0"/><circle cx="529.8" cy="574.6" r="1.0"/><circle cx="530.3" cy="574.7" r="1.0"/><circle cx="530.8" cy="574.8" r="1.0"/><circle cx="531.3" cy="574.9" r="1.0"/><circle cx="531.8" cy="574.9" r="1.0"/><circle cx="532.3" cy="575.0" r="1.0"/><circle cx="532.8" cy="575.1" r="1.0"/><circle cx="533.4" cy="575.1" r="1.0"/><circle cx="533.9" cy="575.2" r="1.0"/><circle cx="534.4" cy="575.3" r="1.0"/><circle cx="534.9" cy="575.3" r="1.0"/><circle cx="535.4" cy="575.4" r="1.0"/><circle cx="535.9" cy="575.5" r="1.0"/><circle cx="536.4" cy="575.6" r="1.0"/><circle cx="536.9" cy="575.6" r="1.0"/><circle cx="537.5" cy="575.7" r="1.0"/><circle cx="538.0" cy="575.8" r="1.0"/><circle cx="538.5" cy="575.8" r="1.0"/><circle cx="539.0" cy="575.9" r="1.0"/><circle cx="539.5" cy="576.0" r="1.0"/><circle cx="540.0" cy="576.0" r="1.0"/><circle cx="540.5" cy="576.1" r="1.0"/><circle cx="541.1" cy="576.2" r="1.0"/><circle cx="541.6" cy="576.3" r="1.0"/><circle cx="542.1" cy="576.3" r="1.0"/><circle cx="542.6" cy="576.4" r="1.0"/><circle cx="543.1" cy="576.5" r="1.0"/><circle cx="543.6" cy="576.5" r="1.0"/><circle cx="544.1" cy="576.6" r="1.0"/><circle cx="544.6" cy="576.6" r="1.0"/><circle cx="545.2" cy="576.7" r="1.0"/><circle cx="545.7" cy="576.8" r="1.0"/><circle cx="546.2" cy="576.8" r="1.0"/><circle cx="546.7" cy="576.9" r="1.0"/><circle cx="547.2" cy="576.9" r="1.0"/><circle cx="547.7" cy="577.0" r="1.0"/><circle cx="548.2" cy="577.1" r="1.0"/><circle cx="548.8" cy="577.1" r="1.0"/><circle cx="549.3" cy="577.2" r="1.0"/><circle cx="549.8" cy="577.2" r="1.0"/><circle cx="550.3" cy="577.3" r="1.0"/><circle cx="550.8" cy="577.4" r="1.0"/><circle cx="551.3" cy="577.4" r="1.0"/><circle cx="551.8" cy="577.5" r="1.0"/><circle cx="552.3" cy="577.5" r="1.0"/><circle cx="552.9" cy="577.6" r="1.0"/><circle cx="553.4" cy="577.7" r="1.0"/><circle cx="553.9" cy="577.7" r="1.0"/><circle cx="554.4" cy="577.8" r="1.0"/><circle cx="554.9" cy="577.9" r="1.0"/><circle cx="555.4" cy="577.9" r="1.0"/><circle cx="555.9" cy="578.0" r="1.0"/><circle cx="556.5" cy="578.0" r="1.0"/><circle cx="557.0" cy="578.1" r="1.0"/><circle cx="557.5" cy="578.2" r="1.0"/><circle cx="558.0" cy="578.2" r="1.0"/><circle cx="558.5" cy="578.3" r="1.0"/><circle cx="559.0" cy="578.4" r="1.0"/><circle cx="559.5" cy="578.4" r="1.0"/><circle cx="560.1" cy="578.5" r="1.0"/><circle cx="560.6" cy="578.5" r="1.0"/><circle cx="561.1" cy="578.6" r="1.0"/><circle cx="561.6" cy="578.7" r="1.0"/><circle cx="562.1" cy="578.7" r="1.0"/><circle cx="562.6" cy="578.8" r="1.0"/><circle cx="563.1" cy="578.9" r="1.0"/><circle cx="563.6" cy="578.9" r="1.0"/><circle cx="564.2" cy="579.0" r="1.0"/><circle cx="564.7" cy="579.1" r="1.0"/><circle cx="565.2" cy="579.1" r="1.0"/><circle cx="565.7" cy="579.2" r="1.0"/><circle cx="566.2" cy="579.2" r="1.0"/><circle cx="566.7" cy="579.3" r="1.0"/><circle cx="567.2" cy="579.3" r="1.0"/><circle cx="567.8" cy="579.4" r="1.0"/><circle cx="568.3" cy="579.4" r="1.0"/><circle cx="568.8" cy="579.5" r="1.0"/><circle cx="569.3" cy="579.5" r="1.0"/><circle cx="569.8" cy="579.6" r="1.0"/><circle cx="570.3" cy="579.6" r="1.0"/><circle cx="570.8" cy="579.7" r="1.0"/><circle cx="571.3" cy="579.7" r="1.0"/><circle cx="571.9" cy="579.8" r="1.0"/><circle cx="572.4" cy="579.8" r="1.0"/><circle cx="572.9" cy="579.9" r="1.0"/><circle cx="573.4" cy="579.9" r="1.0"/><circle cx="573.9" cy="580.0" r="1.0"/><circle cx="574.4" cy="580.0" r="1.0"/><circle cx="574.9" cy="580.1" r="1.0"/><circle cx="575.5" cy="580.1" r="1.0"/><circle cx="576.0" cy="580.2" r="1.0"/><circle cx="576.5" cy="580.2" r="1.0"/><circle cx="577.0" cy="580.3" r="1.0"/><circle cx="577.5" cy="580.3" r="1.0"/><circle cx="578.0" cy="580.4" r="1.0"/><circle cx="578.5" cy="580.4" r="1.0"/><circle cx="579.1" cy="580.5" r="1.0"/><circle cx="579.6" cy="580.5" r="1.0"/><circle cx="580.1" cy="580.6" r="1.0"/><circle cx="580.6" cy="580.6" r="1.0"/><circle cx="581.1" cy="580.6" r="1.0"/><circle cx="581.6" cy="580.7" r="1.0"/><circle cx="582.1" cy="580.7" r="1.0"/><circle cx="582.6" cy="580.8" r="1.0"/><circle cx="583.2" cy="580.8" r="1.0"/><circle cx="583.7" cy="580.8" r="1.0"/><circle cx="584.2" cy="580.9" r="1.0"/><circle cx="584.7" cy="580.9" r="1.0"/><circle cx="585.2" cy="580.9" r="1.0"/><circle cx="585.7" cy="581.0" r="1.0"/><circle cx="586.2" cy="581.0" r="1.0"/><circle cx="586.8" cy="581.1" r="1.0"/><circle cx="587.3" cy="581.1" r="1.0"/><circle cx="587.8" cy="581.1" r="1.0"/><circle cx="588.3" cy="581.2" r="1.0"/><circle cx="588.8" cy="581.2" r="1.0"/><circle cx="589.3" cy="581.3" r="1.0"/><circle cx="589.8" cy="581.3" r="1.0"/><circle cx="590.3" cy="581.3" r="1.0"/><circle cx="590.9" cy="581.4" r="1.0"/><circle cx="591.4" cy="581.4" r="1.0"/><circle cx="591.9" cy="581.4" r="1.0"/><circle cx="592.4" cy="581.5" r="1.0"/><circle cx="592.9" cy="581.5" r="1.0"/><circle cx="593.4" cy="581.6" r="1.0"/><circle cx="593.9" cy="581.6" r="1.0"/><circle cx="594.5" cy="581.6" r="1.0"/><circle cx="595.0" cy="581.7" r="1.0"/><circle cx="595.5" cy="581.7" r="1.0"/><circle cx="596.0" cy="581.8" r="1.0"/><circle cx="596.5" cy="581.8" r="1.0"/><circle cx="597.0" cy="581.9" r="1.0"/><circle cx="597.5" cy="581.9" r="1.0"/><circle cx="598.1" cy="582.0" r="1.0"/><circle cx="598.6" cy="582.0" r="1.0"/><circle cx="599.1" cy="582.1" r="1.0"/><circle cx="599.6" cy="582.1" r="1.0"/><circle cx="600.1" cy="582.2" r="1.0"/><circle cx="600.6" cy="582.2" r="1.0"/><circle cx="601.1" cy="582.3" r="1.0"/><circle cx="601.6" cy="582.3" r="1.0"/><circle cx="602.2" cy="582.4" r="1.0"/><circle cx="602.7" cy="582.4" r="1.0"/><circle cx="603.2" cy="582.5" r="1.0"/><circle cx="603.7" cy="582.5" r="1.0"/><circle cx="604.2" cy="582.6" r="1.0"/><circle cx="604.7" cy="582.6" r="1.0"/><circle cx="605.2" cy="582.7" r="1.0"/><circle cx="605.8" cy="582.7" r="1.0"/><circle cx="606.3" cy="582.8" r="1.0"/><circle cx="606.8" cy="582.8" r="1.0"/><circle cx="607.3" cy="582.9" r="1.0"/><circle cx="607.8" cy="582.9" r="1.0"/><circle cx="608.3" cy="583.0" r="1.0"/><circle cx="608.8" cy="583.0" r="1.0"/><circle cx="609.3" cy="583.1" r="1.0"/><circle cx="609.9" cy="583.1" r="1.0"/><circle cx="610.4" cy="583.2" r="1.0"/><circle cx="610.9" cy="583.2" r="1.0"/><circle cx="611.4" cy="583.2" r="1.0"/><circle cx="611.9" cy="583.2" r="1.0"/><circle cx="612.4" cy="583.3" r="1.0"/><circle cx="612.9" cy="583.3" r="1.0"/><circle cx="613.5" cy="583.3" r="1.0"/><circle cx="614.0" cy="583.3" r="1.0"/><circle cx="614.5" cy="583.3" r="1.0"/><circle cx="615.0" cy="583.4" r="1.0"/><circle cx="615.5" cy="583.4" r="1.0"/><circle cx="616.0" cy="583.4" r="1.0"/><circle cx="616.5" cy="583.4" r="1.0"/><circle cx="617.1" cy="583.5" r="1.0"/><circle cx="617.6" cy="583.5" r="1.0"/><circle cx="618.1" cy="583.5" r="1.0"/><circle cx="618.6" cy="583.5" r="1.0"/><circle cx="619.1" cy="583.6" r="1.0"/><circle cx="619.6" cy="583.6" r="1.0"/><circle cx="620.1" cy="583.6" r="1.0"/><circle cx="620.6" cy="583.6" r="1.0"/><circle cx="621.2" cy="583.7" r="1.0"/><circle cx="621.7" cy="583.7" r="1.0"/><circle cx="622.2" cy="583.7" r="1.0"/><circle cx="622.7" cy="583.7" r="1.0"/><circle cx="623.2" cy="583.8" r="1.0"/><circle cx="623.7" cy="583.8" r="1.0"/><circle cx="624.2" cy="583.8" r="1.0"/><circle cx="624.8" cy="583.8" r="1.0"/><circle cx="625.3" cy="583.9" r="1.0"/><circle cx="625.8" cy="583.9" r="1.0"/></g>
<path d="M482.20,485.62 L483.20,497.03 L484.00,506.60 L484.60,512.48 L485.20,515.80 L485.80,518.37 L486.50,521.32 L487.40,523.52 L488.50,526.10 L489.70,528.68 L490.73,530.70 L491.24,531.70 L491.76,532.64 L492.27,533.59 L492.78,534.53 L493.30,535.33 L493.81,536.02 L494.32,536.70 L494.84,537.39 L495.35,537.95 L495.86,538.19 L496.38,538.44 L496.89,538.69 L497.40,538.93 L497.92,539.29 L498.43,539.67 L498.95,540.04 L499.46,540.54 L499.97,541.06 L500.49,541.58 L501.00,542.09 L501.51,542.56 L502.03,543.00 L502.54,543.44 L503.05,543.88 L503.57,544.32 L504.08,544.77 L504.59,545.14 L505.11,545.48 L505.62,545.83 L506.13,546.18 L506.65,546.53 L507.16,546.88 L507.68,547.22 L508.19,547.58 L508.70,547.96 L509.22,548.34 L509.73,548.72 L510.24,549.09 L510.76,549.47 L511.27,549.85 L511.78,550.23 L512.30,550.61 L512.81,550.96 L513.32,551.31 L513.84,551.65 L514.35,551.99 L514.86,552.34 L515.38,552.68 L515.89,553.02 L516.40,553.37 L516.92,553.71 L517.43,554.06 L517.95,554.40 L518.46,554.68 L518.97,554.96 L519.49,555.24 L520.00,555.51 L520.51,555.79 L521.03,556.07 L521.54,556.35 L522.05,556.62 L522.57,556.90 L523.08,557.18 L523.59,557.45 L524.11,557.73 L524.62,558.01 L525.13,558.29 L525.65,558.54 L526.16,558.75 L526.67,558.96 L527.19,559.17 L527.70,559.38 L528.22,559.59 L528.73,559.80 L529.24,560.01 L529.76,560.22 L530.27,560.43 L530.78,560.64 L531.30,560.85 L531.81,561.06 L532.32,561.27 L532.84,561.48 L533.35,561.69 L533.86,561.90 L534.38,562.11 L534.89,562.29 L535.40,562.46 L535.92,562.63 L536.43,562.80 L536.94,562.96 L537.46,563.13 L537.97,563.30 L538.49,563.47 L539.00,563.64 L539.51,563.80 L540.03,563.97 L540.54,564.14 L541.05,564.31 L541.57,564.48 L542.08,564.64 L542.59,564.81 L543.11,564.98 L543.62,565.15 L544.13,565.32 L544.65,565.50 L545.16,565.67 L545.67,565.85 L546.19,566.02 L546.70,566.20 L547.21,566.37 L547.73,566.54 L548.24,566.72 L548.75,566.89 L549.27,567.07 L549.78,567.24 L550.30,567.41 L550.81,567.58 L551.32,567.75 L551.84,567.92 L552.35,568.08 L552.86,568.25 L553.38,568.42 L553.89,568.59 L554.40,568.76 L554.92,568.92 L555.43,569.09 L555.94,569.26 L556.46,569.43 L556.97,569.60 L557.48,569.76 L558.00,569.93 L558.51,570.10 L559.02,570.27 L559.54,570.41 L560.05,570.56 L560.57,570.71 L561.08,570.86 L561.59,571.00 L562.11,571.15 L562.62,571.30 L563.13,571.44 L563.65,571.59 L564.16,571.74 L564.67,571.88 L565.19,572.03 L565.70,572.18 L566.21,572.32 L566.73,572.47 L567.24,572.62 L567.75,572.77 L568.27,572.90 L568.78,573.03 L569.29,573.15 L569.81,573.28 L570.32,573.41 L570.84,573.53 L571.35,573.66 L571.86,573.78 L572.38,573.91 L572.89,574.04 L573.40,574.16 L573.92,574.29 L574.43,574.41 L574.94,574.54 L575.46,574.67 L575.97,574.79 L576.48,574.92 L577.00,575.04 L577.51,575.17 L578.02,575.30 L578.54,575.42 L579.05,575.55 L579.57,575.67 L580.08,575.80 L580.59,575.90 L581.11,576.00 L581.62,576.10 L582.13,576.20 L582.65,576.30 L583.16,576.40 L583.67,576.50 L584.19,576.60 L584.70,576.70 L585.21,576.80 L585.73,576.90 L586.24,577.00 L586.75,577.11 L587.27,577.21 L587.78,577.31 L588.29,577.41 L588.81,577.51 L589.32,577.61 L589.84,577.71 L590.35,577.81 L590.86,577.91 L591.38,578.01 L591.89,578.11 L592.40,578.21 L592.92,578.31 L593.43,578.42 L593.94,578.52 L594.46,578.62 L594.97,578.72 L595.48,578.81 L596.00,578.90 L596.51,578.98 L597.02,579.07 L597.54,579.16 L598.05,579.25 L598.56,579.34 L599.08,579.42 L599.59,579.51 L600.11,579.60 L600.62,579.69 L601.13,579.78 L601.65,579.87 L602.16,579.95 L602.67,580.04 L603.19,580.13 L603.70,580.22 L604.21,580.31 L604.73,580.39 L605.24,580.48 L605.75,580.57 L606.27,580.66 L606.78,580.75 L607.29,580.84 L607.81,580.92 L608.32,581.01 L608.83,581.10 L609.35,581.19 L609.86,581.28 L610.38,581.34 L610.89,581.40 L611.40,581.46 L611.92,581.52 L612.43,581.58 L612.94,581.64 L613.46,581.70 L613.97,581.76 L614.48,581.82 L615.00,581.88 L615.51,581.94 L616.02,582.00 L616.54,582.06 L617.05,582.12 L617.56,582.18 L618.08,582.24 L618.59,582.30 L619.10,582.36 L619.62,582.42 L620.13,582.48 L620.64,582.54 L621.16,582.60 L621.67,582.66 L622.19,582.72 L622.70,582.78 L623.21,582.84 L623.73,582.90 L624.24,582.96 L624.75,583.02 L625.27,583.08 L625.78,583.14" fill="none" stroke="#619CFF" stroke-width="0.7" stroke-linejoin="round"/>
<g fill="#619CFF"><circle cx="482.2" cy="485.6" r="1.0"/><circle cx="483.2" cy="497.0" r="1.0"/><circle cx="484.0" cy="506.6" r="1.0"/><circle cx="484.6" cy="512.5" r="1.0"/><circle cx="485.2" cy="515.8" r="1.0"/><circle cx="485.8" cy="518.4" r="1.0"/><circle cx="486.5" cy="521.3" r="1.0"/><circle cx="487.4" cy="523.5" r="1.0"/><circle cx="488.5" cy="526.1" r="1.0"/><circle cx="489.7" cy="528.7" r="1.0"/><circle cx="490.7" cy="530.7" r="1.0"/><circle cx="491.2" cy="531.7" r="1.0"/><circle cx="491.8" cy="532.6" r="1.0"/><circle cx="492.3" cy="533.6" r="1.0"/><circle cx="492.8" cy="534.5" r="1.0"/><circle cx="493.3" cy="535.3" r="1.0"/><circle cx="493.8" cy="536.0" r="1.0"/><circle cx="494.3" cy="536.7" r="1.0"/><circle cx="494.8" cy="537.4" r="1.0"/><circle cx="495.4" cy="537.9" r="1.0"/><circle cx="495.9" cy="538.2" r="1.0"/><circle cx="496.4" cy="538.4" r="1.0"/><circle cx="496.9" cy="538.7" r="1.0"/><circle cx="497.4" cy="538.9" r="1.0"/><circle cx="497.9" cy="539.3" r="1.0"/><circle cx="498.4" cy="539.7" r="1.0"/><circle cx="498.9" cy="540.0" r="1.0"/><circle cx="499.5" cy="540.5" r="1.0"/><circle cx="500.0" cy="541.1" r="1.0"/><circle cx="500.5" cy="541.6" r="1.0"/><circle cx="501.0" cy="542.1" r="1.0"/><circle cx="501.5" cy="542.6" r="1.0"/><circle cx="502.0" cy="543.0" r="1.0"/><circle cx="502.5" cy="543.4" r="1.0"/><circle cx="503.1" cy="543.9" r="1.0"/><circle cx="503.6" cy="544.3" r="1.0"/><circle cx="504.1" cy="544.8" r="1.0"/><circle cx="504.6" cy="545.1" r="1.0"/><circle cx="505.1" cy="545.5" r="1.0"/><circle cx="505.6" cy="545.8" r="1.0"/><circle cx="506.1" cy="546.2" r="1.0"/><circle cx="506.6" cy="546.5" r="1.0"/><circle cx="507.2" cy="546.9" r="1.0"/><circle cx="507.7" cy="547.2" r="1.0"/><circle cx="508.2" cy="547.6" r="1.0"/><circle cx="508.7" cy="548.0" r="1.0"/><circle cx="509.2" cy="548.3" r="1.0"/><circle cx="509.7" cy="548.7" r="1.0"/><circle cx="510.2" cy="549.1" r="1.0"/><circle cx="510.8" cy="549.5" r="1.0"/><circle cx="511.3" cy="549.9" r="1.0"/><circle cx="511.8" cy="550.2" r="1.0"/><circle cx="512.3" cy="550.6" r="1.0"/><circle cx="512.8" cy="551.0" r="1.0"/><circle cx="513.3" cy="551.3" r="1.0"/><circle cx="513.8" cy="551.7" r="1.0"/><circle cx="514.4" cy="552.0" r="1.0"/><circle cx="514.9" cy="552.3" r="1.0"/><circle cx="515.4" cy="552.7" r="1.0"/><circle cx="515.9" cy="553.0" r="1.0"/><circle cx="516.4" cy="553.4" r="1.0"/><circle cx="516.9" cy="553.7" r="1.0"/><circle cx="517.4" cy="554.1" r="1.0"/><circle cx="517.9" cy="554.4" r="1.0"/><circle cx="518.5" cy="554.7" r="1.0"/><circle cx="519.0" cy="555.0" r="1.0"/><circle cx="519.5" cy="555.2" r="1.0"/><circle cx="520.0" cy="555.5" r="1.0"/><circle cx="520.5" cy="555.8" r="1.0"/><circle cx="521.0" cy="556.1" r="1.0"/><circle cx="521.5" cy="556.3" r="1.0"/><circle cx="522.1" cy="556.6" r="1.0"/><circle cx="522.6" cy="556.9" r="1.0"/><circle cx="523.1" cy="557.2" r="1.0"/><circle cx="523.6" cy="557.5" r="1.0"/><circle cx="524.1" cy="557.7" r="1.0"/><circle cx="524.6" cy="558.0" r="1.0"/><circle cx="525.1" cy="558.3" r="1.0"/><circle cx="525.6" cy="558.5" r="1.0"/><circle cx="526.2" cy="558.8" r="1.0"/><circle cx="526.7" cy="559.0" r="1.0"/><circle cx="527.2" cy="559.2" r="1.0"/><circle cx="527.7" cy="559.4" r="1.0"/><circle cx="528.2" cy="559.6" r="1.0"/><circle cx="528.7" cy="559.8" r="1.0"/><circle cx="529.2" cy="560.0" r="1.0"/><circle cx="529.8" cy="560.2" r="1.0"/><circle cx="530.3" cy="560.4" r="1.0"/><circle cx="530.8" cy="560.6" r="1.0"/><circle cx="531.3" cy="560.9" r="1.0"/><circle cx="531.8" cy="561.1" r="1.0"/><circle cx="532.3" cy="561.3" r="1.0"/><circle cx="532.8" cy="561.5" r="1.0"/><circle cx="533.4" cy="561.7" r="1.0"/><circle cx="533.9" cy="561.9" r="1.0"/><circle cx="534.4" cy="562.1" r="1.0"/><circle cx="534.9" cy="562.3" r="1.0"/><circle cx="535.4" cy="562.5" r="1.0"/><circle cx="535.9" cy="562.6" r="1.0"/><circle cx="536.4" cy="562.8" r="1.0"/><circle cx="536.9" cy="563.0" r="1.0"/><circle cx="537.5" cy="563.1" r="1.0"/><circle cx="538.0" cy="563.3" r="1.0"/><circle cx="538.5" cy="563.5" r="1.0"/><circle cx="539.0" cy="563.6" r="1.0"/><circle cx="539.5" cy="563.8" r="1.0"/><circle cx="540.0" cy="564.0" r="1.0"/><circle cx="540.5" cy="564.1" r="1.0"/><circle cx="541.1" cy="564.3" r="1.0"/><circle cx="541.6" cy="564.5" r="1.0"/><circle cx="542.1" cy="564.6" r="1.0"/><circle cx="542.6" cy="564.8" r="1.0"/><circle cx="543.1" cy="565.0" r="1.0"/><circle cx="543.6" cy="565.1" r="1.0"/><circle cx="544.1" cy="565.3" r="1.0"/><circle cx="544.6" cy="565.5" r="1.0"/><circle cx="545.2" cy="565.7" r="1.0"/><circle cx="545.7" cy="565.8" r="1.0"/><circle cx="546.2" cy="566.0" r="1.0"/><circle cx="546.7" cy="566.2" r="1.0"/><circle cx="547.2" cy="566.4" r="1.0"/><circle cx="547.7" cy="566.5" r="1.0"/><circle cx="548.2" cy="566.7" r="1.0"/><circle cx="548.8" cy="566.9" r="1.0"/><circle cx="549.3" cy="567.1" r="1.0"/><circle cx="549.8" cy="567.2" r="1.0"/><circle cx="550.3" cy="567.4" r="1.0"/><circle cx="550.8" cy="567.6" r="1.0"/><circle cx="551.3" cy="567.7" r="1.0"/><circle cx="551.8" cy="567.9" r="1.0"/><circle cx="552.3" cy="568.1" r="1.0"/><circle cx="552.9" cy="568.3" r="1.0"/><circle cx="553.4" cy="568.4" r="1.0"/><circle cx="553.9" cy="568.6" r="1.0"/><circle cx="554.4" cy="568.8" r="1.0"/><circle cx="554.9" cy="568.9" r="1.0"/><circle cx="555.4" cy="569.1" r="1.0"/><circle cx="555.9" cy="569.3" r="1.0"/><circle cx="556.5" cy="569.4" r="1.0"/><circle cx="557.0" cy="569.6" r="1.0"/><circle cx="557.5" cy="569.8" r="1.0"/><circle cx="558.0" cy="569.9" r="1.0"/><circle cx="558.5" cy="570.1" r="1.0"/><circle cx="559.0" cy="570.3" r="1.0"/><circle cx="559.5" cy="570.4" r="1.0"/><circle cx="560.1" cy="570.6" r="1.0"/><circle cx="560.6" cy="570.7" r="1.0"/><circle cx="561.1" cy="570.9" r="1.0"/><circle cx="561.6" cy="571.0" r="1.0"/><circle cx="562.1" cy="571.1" r="1.0"/><circle cx="562.6" cy="571.3" r="1.0"/><circle cx="563.1" cy="571.4" r="1.0"/><circle cx="563.6" cy="571.6" r="1.0"/><circle cx="564.2" cy="571.7" r="1.0"/><circle cx="564.7" cy="571.9" r="1.0"/><circle cx="565.2" cy="572.0" r="1.0"/><circle cx="565.7" cy="572.2" r="1.0"/><circle cx="566.2" cy="572.3" r="1.0"/><circle cx="566.7" cy="572.5" r="1.0"/><circle cx="567.2" cy="572.6" r="1.0"/><circle cx="567.8" cy="572.8" r="1.0"/><circle cx="568.3" cy="572.9" r="1.0"/><circle cx="568.8" cy="573.0" r="1.0"/><circle cx="569.3" cy="573.2" r="1.0"/><circle cx="569.8" cy="573.3" r="1.0"/><circle cx="570.3" cy="573.4" r="1.0"/><circle cx="570.8" cy="573.5" r="1.0"/><circle cx="571.3" cy="573.7" r="1.0"/><circle cx="571.9" cy="573.8" r="1.0"/><circle cx="572.4" cy="573.9" r="1.0"/><circle cx="572.9" cy="574.0" r="1.0"/><circle cx="573.4" cy="574.2" r="1.0"/><circle cx="573.9" cy="574.3" r="1.0"/><circle cx="574.4" cy="574.4" r="1.0"/><circle cx="574.9" cy="574.5" r="1.0"/><circle cx="575.5" cy="574.7" r="1.0"/><circle cx="576.0" cy="574.8" r="1.0"/><circle cx="576.5" cy="574.9" r="1.0"/><circle cx="577.0" cy="575.0" r="1.0"/><circle cx="577.5" cy="575.2" r="1.0"/><circle cx="578.0" cy="575.3" r="1.0"/><circle cx="578.5" cy="575.4" r="1.0"/><circle cx="579.1" cy="575.5" r="1.0"/><circle cx="579.6" cy="575.7" r="1.0"/><circle cx="580.1" cy="575.8" r="1.0"/><circle cx="580.6" cy="575.9" r="1.0"/><circle cx="581.1" cy="576.0" r="1.0"/><circle cx="581.6" cy="576.1" r="1.0"/><circle cx="582.1" cy="576.2" r="1.0"/><circle cx="582.6" cy="576.3" r="1.0"/><circle cx="583.2" cy="576.4" r="1.0"/><circle cx="583.7" cy="576.5" r="1.0"/><circle cx="584.2" cy="576.6" r="1.0"/><circle cx="584.7" cy="576.7" r="1.0"/><circle cx="585.2" cy="576.8" r="1.0"/><circle cx="585.7" cy="576.9" r="1.0"/><circle cx="586.2" cy="577.0" r="1.0"/><circle cx="586.8" cy="577.1" r="1.0"/><circle cx="587.3" cy="577.2" r="1.0"/><circle cx="587.8" cy="577.3" r="1.0"/><circle cx="588.3" cy="577.4" r="1.0"/><circle cx="588.8" cy="577.5" r="1.0"/><circle cx="589.3" cy="577.6" r="1.0"/><circle cx="589.8" cy="577.7" r="1.0"/><circle cx="590.3" cy="577.8" r="1.0"/><circle cx="590.9" cy="577.9" r="1.0"/><circle cx="591.4" cy="578.0" r="1.0"/><circle cx="591.9" cy="578.1" r="1.0"/><circle cx="592.4" cy="578.2" r="1.0"/><circle cx="592.9" cy="578.3" r="1.0"/><circle cx="593.4" cy="578.4" r="1.0"/><circle cx="593.9" cy="578.5" r="1.0"/><circle cx="594.5" cy="578.6" r="1.0"/><circle cx="595.0" cy="578.7" r="1.0"/><circle cx="595.5" cy="578.8" r="1.0"/><circle cx="596.0" cy="578.9" r="1.0"/><circle cx="596.5" cy="579.0" r="1.0"/><circle cx="597.0" cy="579.1" r="1.0"/><circle cx="597.5" cy="579.2" r="1.0"/><circle cx="598.1" cy="579.2" r="1.0"/><circle cx="598.6" cy="579.3" r="1.0"/><circle cx="599.1" cy="579.4" r="1.0"/><circle cx="599.6" cy="579.5" r="1.0"/><circle cx="600.1" cy="579.6" r="1.0"/><circle cx="600.6" cy="579.7" r="1.0"/><circle cx="601.1" cy="579.8" r="1.0"/><circle cx="601.6" cy="579.9" r="1.0"/><circle cx="602.2" cy="580.0" r="1.0"/><circle cx="602.7" cy="580.0" r="1.0"/><circle cx="603.2" cy="580.1" r="1.0"/><circle cx="603.7" cy="580.2" r="1.0"/><circle cx="604.2" cy="580.3" r="1.0"/><circle cx="604.7" cy="580.4" r="1.0"/><circle cx="605.2" cy="580.5" r="1.0"/><circle cx="605.8" cy="580.6" r="1.0"/><circle cx="606.3" cy="580.7" r="1.0"/><circle cx="606.8" cy="580.7" r="1.0"/><circle cx="607.3" cy="580.8" r="1.0"/><circle cx="607.8" cy="580.9" r="1.0"/><circle cx="608.3" cy="581.0" r="1.0"/><circle cx="608.8" cy="581.1" r="1.0"/><circle cx="609.3" cy="581.2" r="1.0"/><circle cx="609.9" cy="581.3" r="1.0"/><circle cx="610.4" cy="581.3" r="1.0"/><circle cx="610.9" cy="581.4" r="1.0"/><circle cx="611.4" cy="581.5" r="1.0"/><circle cx="611.9" cy="581.5" r="1.0"/><circle cx="612.4" cy="581.6" r="1.0"/><circle cx="612.9" cy="581.6" r="1.0"/><circle cx="613.5" cy="581.7" r="1.0"/><circle cx="614.0" cy="581.8" r="1.0"/><circle cx="614.5" cy="581.8" r="1.0"/><circle cx="615.0" cy="581.9" r="1.0"/><circle cx="615.5" cy="581.9" r="1.0"/><circle cx="616.0" cy="582.0" r="1.0"/><circle cx="616.5" cy="582.1" r="1.0"/><circle cx="617.1" cy="582.1" r="1.0"/><circle cx="617.6" cy="582.2" r="1.0"/><circle cx="618.1" cy="582.2" r="1.0"/><circle cx="618.6" cy="582.3" r="1.0"/><circle cx="619.1" cy="582.4" r="1.0"/><circle cx="619.6" cy="582.4" r="1.0"/><circle cx="620.1" cy="582.5" r="1.0"/><circle cx="620.6" cy="582.5" r="1.0"/><circle cx="621.2" cy="582.6" r="1.0"/><circle cx="621.7" cy="582.7" r="1.0"/><circle cx="622.2" cy="582.7" r="1.0"/><circle cx="622.7" cy="582.8" r="1.0"/><circle cx="623.2" cy="582.8" r="1.0"/><circle cx="623.7" cy="582.9" r="1.0"/><circle cx="624.2" cy="583.0" r="1.0"/><circle cx="624.8" cy="583.0" r="1.0"/><circle cx="625.3" cy="583.1" r="1.0"/><circle cx="625.8" cy="583.1" r="1.0"/></g>
<line x1="475.5" y1="452.6" x2="632.5" y2="452.6" stroke="#c4c4c4" stroke-width="1.3"/>
<line x1="632.5" y1="452.6" x2="632.5" y2="654.6" stroke="#8a8a8a" stroke-width="1"/>
<line x1="475.5" y1="654.6" x2="632.5" y2="654.6" stroke="#999" stroke-width="1"/>
<line x1="475.5" y1="452.6" x2="475.5" y2="654.6" stroke="#666" stroke-width="1"/>
<line x1="473.9" y1="627.30" x2="475.5" y2="627.30" stroke="#333" stroke-width="0.8"/>
<text class="s" x="473.10" y="628.70" font-size="3.95" fill="#333" text-anchor="end">30</text>
<line x1="473.9" y1="590.50" x2="475.5" y2="590.50" stroke="#333" stroke-width="0.8"/>
<text class="s" x="473.10" y="591.90" font-size="3.95" fill="#333" text-anchor="end">40</text>
<line x1="473.9" y1="553.70" x2="475.5" y2="553.70" stroke="#333" stroke-width="0.8"/>
<text class="s" x="473.10" y="555.10" font-size="3.95" fill="#333" text-anchor="end">50</text>
<line x1="473.9" y1="516.90" x2="475.5" y2="516.90" stroke="#333" stroke-width="0.8"/>
<text class="s" x="473.10" y="518.30" font-size="3.95" fill="#333" text-anchor="end">60</text>
<line x1="473.9" y1="480.10" x2="475.5" y2="480.10" stroke="#333" stroke-width="0.8"/>
<text class="s" x="473.10" y="481.50" font-size="3.95" fill="#333" text-anchor="end">70</text>
<line x1="482.00" y1="654.6" x2="482.00" y2="656.2" stroke="#333" stroke-width="0.8"/>
<text class="s" x="482.00" y="660.20" font-size="3.95" fill="#333" text-anchor="middle">0</text>
<line x1="502.54" y1="654.6" x2="502.54" y2="656.2" stroke="#333" stroke-width="0.8"/>
<text class="s" x="502.54" y="660.20" font-size="3.95" fill="#333" text-anchor="middle">4000</text>
<line x1="523.08" y1="654.6" x2="523.08" y2="656.2" stroke="#333" stroke-width="0.8"/>
<text class="s" x="523.08" y="660.20" font-size="3.95" fill="#333" text-anchor="middle">8000</text>
<line x1="543.62" y1="654.6" x2="543.62" y2="656.2" stroke="#333" stroke-width="0.8"/>
<text class="s" x="543.62" y="660.20" font-size="3.95" fill="#333" text-anchor="middle">12000</text>
<line x1="564.16" y1="654.6" x2="564.16" y2="656.2" stroke="#333" stroke-width="0.8"/>
<text class="s" x="564.16" y="660.20" font-size="3.95" fill="#333" text-anchor="middle">16000</text>
<line x1="584.70" y1="654.6" x2="584.70" y2="656.2" stroke="#333" stroke-width="0.8"/>
<text class="s" x="584.70" y="660.20" font-size="3.95" fill="#333" text-anchor="middle">20000</text>
<line x1="605.24" y1="654.6" x2="605.24" y2="656.2" stroke="#333" stroke-width="0.8"/>
<text class="s" x="605.24" y="660.20" font-size="3.95" fill="#333" text-anchor="middle">24000</text>
<line x1="625.78" y1="654.6" x2="625.78" y2="656.2" stroke="#333" stroke-width="0.8"/>
<text class="s" x="625.78" y="660.20" font-size="3.95" fill="#333" text-anchor="middle">28000</text>
<text class="s" x="554.00" y="665.0" font-size="4.9" fill="#000" text-anchor="middle">Number of Genes in Meta−Analysis Gene List</text>
<text class="s" transform="translate(468.7,553.60) rotate(-90)" font-size="4.9" fill="#000" text-anchor="middle">Mean Relative Classification Accuracy</text>
<text class="s" x="477.1" y="450.6" font-size="5.87" fill="#000">Relative Classification Accuracy of Meta−Analysis Methods for AD DEGs</text>
<text class="r" x="457.4" y="448.0" font-size="14" font-weight="bold" fill="#000">D</text>
<text class="s" x="640.2" y="542.65" font-size="4.9" fill="#000">MetaAnalysis_Type</text>
<line x1="641.10" y1="549.40" x2="647.40" y2="549.40" stroke="#F8766D" stroke-width="0.8"/>
<circle cx="644.30" cy="549.40" r="1.1" fill="#F8766D"/>
<text class="s" x="651.00" y="550.85" font-size="4.1" fill="#222">Inverse_Variance</text>
<line x1="641.10" y1="557.30" x2="647.40" y2="557.30" stroke="#00BA38" stroke-width="0.8"/>
<circle cx="644.30" cy="557.30" r="1.1" fill="#00BA38"/>
<text class="s" x="651.00" y="558.75" font-size="4.1" fill="#222">Merge</text>
<line x1="641.10" y1="565.20" x2="647.40" y2="565.20" stroke="#619CFF" stroke-width="0.8"/>
<circle cx="644.30" cy="565.20" r="1.1" fill="#619CFF"/>
<text class="s" x="651.00" y="566.65" font-size="4.1" fill="#222">SumRank</text>
</svg></body></html>
